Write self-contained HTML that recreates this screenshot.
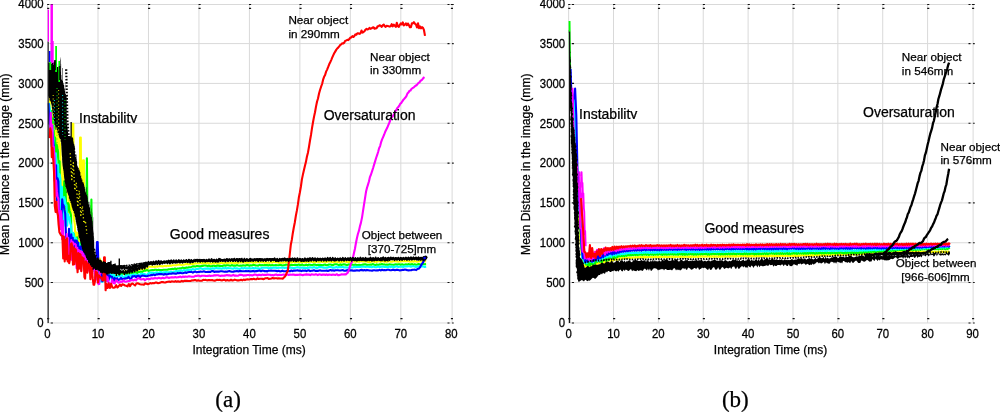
<!DOCTYPE html>
<html><head><meta charset="utf-8"><style>
html,body{margin:0;padding:0;background:#fff;width:1000px;height:412px;overflow:hidden}
svg{display:block}
text{font-family:"Liberation Sans",sans-serif;fill:#000;stroke:#000;stroke-width:0.25px}
svg{will-change:transform;filter:blur(0.3px)}
</style></head><body>
<svg width="1000" height="412" viewBox="0 0 1000 412">
<rect width="1000" height="412" fill="#fff"/>
<path d="M98 4.49V322.98M148.47 4.49V322.98M198.94 4.49V322.98M249.41 4.49V322.98M299.88 4.49V322.98M350.35 4.49V322.98M400.82 4.49V322.98M47.53 282.57H452.1M47.53 242.74H452.1M47.53 202.91H452.1M47.53 163.08H452.1M47.53 123.25H452.1M47.53 83.42H452.1M47.53 43.59H452.1" stroke="#d9d9d9" stroke-width="1" fill="none"/>
<rect x="47.53" y="4.49" width="404.57" height="318.49" stroke="#d9d9d9" stroke-width="1" fill="none"/>
<path d="M47.13 4.49h2.1M47.13 8.39h2.1M47.13 318.63h2.1M97.6 4.49h2.1M97.6 8.39h2.1M97.6 318.63h2.1M148.07 4.49h2.1M148.07 8.39h2.1M148.07 318.63h2.1M198.54 4.49h2.1M198.54 8.39h2.1M198.54 318.63h2.1M249.01 4.49h2.1M249.01 8.39h2.1M249.01 318.63h2.1M299.48 4.49h2.1M299.48 8.39h2.1M299.48 318.63h2.1M349.95 4.49h2.1M349.95 8.39h2.1M349.95 318.63h2.1M400.42 4.49h2.1M400.42 8.39h2.1M400.42 318.63h2.1M450.89 4.49h2.1M450.89 8.39h2.1M450.89 318.63h2.1M50.73 322.98h2.2M447.5 322.98h2M452.1 322.98h1.6M50.73 282.57h2.2M447.5 282.57h2M452.1 282.57h1.6M50.73 242.74h2.2M447.5 242.74h2M452.1 242.74h1.6M50.73 202.91h2.2M447.5 202.91h2M452.1 202.91h1.6M50.73 163.08h2.2M447.5 163.08h2M452.1 163.08h1.6M50.73 123.25h2.2M447.5 123.25h2M452.1 123.25h1.6M50.73 83.42h2.2M447.5 83.42h2M452.1 83.42h1.6M50.73 43.59h2.2M447.5 43.59h2M452.1 43.59h1.6M50.73 4.49h2.2M447.5 4.49h2M452.1 4.49h1.6" stroke="#111" stroke-width="1.1" fill="none"/>
<text transform="translate(43.7 326.8) scale(1 1.11)" text-anchor="end" font-size="11.4">0</text>
<text transform="translate(43.7 286.97) scale(1 1.11)" text-anchor="end" font-size="11.4">500</text>
<text transform="translate(43.7 247.14) scale(1 1.11)" text-anchor="end" font-size="11.4">1000</text>
<text transform="translate(43.7 207.31) scale(1 1.11)" text-anchor="end" font-size="11.4">1500</text>
<text transform="translate(43.7 167.48) scale(1 1.11)" text-anchor="end" font-size="11.4">2000</text>
<text transform="translate(43.7 127.65) scale(1 1.11)" text-anchor="end" font-size="11.4">2500</text>
<text transform="translate(43.7 87.82) scale(1 1.11)" text-anchor="end" font-size="11.4">3000</text>
<text transform="translate(43.7 47.99) scale(1 1.11)" text-anchor="end" font-size="11.4">3500</text>
<text transform="translate(43.7 8.16) scale(1 1.11)" text-anchor="end" font-size="11.4">4000</text>
<text transform="translate(47.53 337.9) scale(1 1.11)" text-anchor="middle" font-size="11.4">0</text>
<text transform="translate(98 337.9) scale(1 1.11)" text-anchor="middle" font-size="11.4">10</text>
<text transform="translate(148.47 337.9) scale(1 1.11)" text-anchor="middle" font-size="11.4">20</text>
<text transform="translate(198.94 337.9) scale(1 1.11)" text-anchor="middle" font-size="11.4">30</text>
<text transform="translate(249.41 337.9) scale(1 1.11)" text-anchor="middle" font-size="11.4">40</text>
<text transform="translate(299.88 337.9) scale(1 1.11)" text-anchor="middle" font-size="11.4">50</text>
<text transform="translate(350.35 337.9) scale(1 1.11)" text-anchor="middle" font-size="11.4">60</text>
<text transform="translate(400.82 337.9) scale(1 1.11)" text-anchor="middle" font-size="11.4">70</text>
<text transform="translate(451.29 337.9) scale(1 1.11)" text-anchor="middle" font-size="11.4">80</text>
<text x="249.1" y="353.6" text-anchor="middle" font-size="12">Integration Time (ms)</text>
<text transform="translate(8.8 164.2) rotate(-90)" text-anchor="middle" font-size="12.1">Mean Distance in the image (mm)</text>
<path d="M613.5 4.49V322.98M658.37 4.49V322.98M703.24 4.49V322.98M748.11 4.49V322.98M792.98 4.49V322.98M837.85 4.49V322.98M882.72 4.49V322.98M927.59 4.49V322.98M568.63 282.57H973.1M568.63 242.74H973.1M568.63 202.91H973.1M568.63 163.08H973.1M568.63 123.25H973.1M568.63 83.42H973.1M568.63 43.59H973.1" stroke="#d9d9d9" stroke-width="1" fill="none"/>
<rect x="568.63" y="4.49" width="404.47" height="318.49" stroke="#d9d9d9" stroke-width="1" fill="none"/>
<path d="M568.23 4.49h2.1M568.23 8.39h2.1M568.23 318.63h2.1M613.1 4.49h2.1M613.1 8.39h2.1M613.1 318.63h2.1M657.97 4.49h2.1M657.97 8.39h2.1M657.97 318.63h2.1M702.84 4.49h2.1M702.84 8.39h2.1M702.84 318.63h2.1M747.71 4.49h2.1M747.71 8.39h2.1M747.71 318.63h2.1M792.58 4.49h2.1M792.58 8.39h2.1M792.58 318.63h2.1M837.45 4.49h2.1M837.45 8.39h2.1M837.45 318.63h2.1M882.32 4.49h2.1M882.32 8.39h2.1M882.32 318.63h2.1M927.19 4.49h2.1M927.19 8.39h2.1M927.19 318.63h2.1M972.06 4.49h2.1M972.06 8.39h2.1M972.06 318.63h2.1M571.83 322.98h2.2M968.5 322.98h2M973.1 322.98h1.6M571.83 282.57h2.2M968.5 282.57h2M973.1 282.57h1.6M571.83 242.74h2.2M968.5 242.74h2M973.1 242.74h1.6M571.83 202.91h2.2M968.5 202.91h2M973.1 202.91h1.6M571.83 163.08h2.2M968.5 163.08h2M973.1 163.08h1.6M571.83 123.25h2.2M968.5 123.25h2M973.1 123.25h1.6M571.83 83.42h2.2M968.5 83.42h2M973.1 83.42h1.6M571.83 43.59h2.2M968.5 43.59h2M973.1 43.59h1.6M571.83 4.49h2.2M968.5 4.49h2M973.1 4.49h1.6" stroke="#111" stroke-width="1.1" fill="none"/>
<text transform="translate(565.2 326.8) scale(1 1.11)" text-anchor="end" font-size="11.4">0</text>
<text transform="translate(565.2 286.97) scale(1 1.11)" text-anchor="end" font-size="11.4">500</text>
<text transform="translate(565.2 247.14) scale(1 1.11)" text-anchor="end" font-size="11.4">1000</text>
<text transform="translate(565.2 207.31) scale(1 1.11)" text-anchor="end" font-size="11.4">1500</text>
<text transform="translate(565.2 167.48) scale(1 1.11)" text-anchor="end" font-size="11.4">2000</text>
<text transform="translate(565.2 127.65) scale(1 1.11)" text-anchor="end" font-size="11.4">2500</text>
<text transform="translate(565.2 87.82) scale(1 1.11)" text-anchor="end" font-size="11.4">3000</text>
<text transform="translate(565.2 47.99) scale(1 1.11)" text-anchor="end" font-size="11.4">3500</text>
<text transform="translate(565.2 8.16) scale(1 1.11)" text-anchor="end" font-size="11.4">4000</text>
<text transform="translate(568.63 337.9) scale(1 1.11)" text-anchor="middle" font-size="11.4">0</text>
<text transform="translate(613.5 337.9) scale(1 1.11)" text-anchor="middle" font-size="11.4">10</text>
<text transform="translate(658.37 337.9) scale(1 1.11)" text-anchor="middle" font-size="11.4">20</text>
<text transform="translate(703.24 337.9) scale(1 1.11)" text-anchor="middle" font-size="11.4">30</text>
<text transform="translate(748.11 337.9) scale(1 1.11)" text-anchor="middle" font-size="11.4">40</text>
<text transform="translate(792.98 337.9) scale(1 1.11)" text-anchor="middle" font-size="11.4">50</text>
<text transform="translate(837.85 337.9) scale(1 1.11)" text-anchor="middle" font-size="11.4">60</text>
<text transform="translate(882.72 337.9) scale(1 1.11)" text-anchor="middle" font-size="11.4">70</text>
<text transform="translate(927.59 337.9) scale(1 1.11)" text-anchor="middle" font-size="11.4">80</text>
<text transform="translate(972.46 337.9) scale(1 1.11)" text-anchor="middle" font-size="11.4">90</text>
<text x="770.5" y="353.6" text-anchor="middle" font-size="12">Integration Time (ms)</text>
<text transform="translate(530.4 164.2) rotate(-90)" text-anchor="middle" font-size="12.1">Mean Distance in the image (mm)</text>
<clipPath id="ca"><rect x="47.5" y="4.49" width="404.25" height="318.49"/></clipPath>
<g clip-path="url(#ca)"><path d="M49.0 114.3L49.8 96.4L50.6 112.4L51.3 122.9L52.1 125.5L52.8 127.7L53.6 108.3L54.3 140.3L55.1 137.5L55.9 115.8L56.6 157.8L57.4 120.9L58.1 149.9L58.9 128.5L59.6 141.8L60.4 147.2L61.2 196.2L61.9 183.1L62.7 189.9L63.4 163.5L64.2 202.4L64.9 208.7L65.7 180.3L66.5 181.3L67.2 185.4L68.0 187.9L68.7 212.3L69.5 198.1L70.2 201.1L71.0 223.6L71.8 207.6L72.5 123.9L73.3 123.9L74.0 219.3L74.8 224.0L75.5 241.9L76.3 232.6L77.1 232.9L77.8 232.9L78.6 259.6L79.3 256.4L80.1 137.6L80.8 137.6L81.6 256.0L82.4 239.9L83.1 160.2L83.9 160.2L84.6 243.1L85.4 255.4L86.1 244.2L86.9 260.8L87.7 246.4L88.4 267.0L89.2 248.2L89.9 248.5L90.7 249.8L91.4 249.4L92.2 268.4L93.0 251.0L93.7 252.7L94.5 254.0L95.2 272.3L96.0 255.8L96.7 256.2L97.5 266.6L98.3 268.1L99.0 270.9L99.8 258.6L100.5 270.2L101.3 261.0L102.0 275.5L102.8 262.9L103.6 264.5L104.3 271.9L105.1 265.2L105.8 266.0L106.6 273.0L107.3 275.3L108.1 276.4L109.4 274.0L110.6 273.9L111.9 276.8L113.1 270.7L114.4 275.6L115.7 274.3L116.9 272.5L118.2 272.5L119.4 273.3L120.7 273.6L122.0 272.2L123.2 273.8L124.5 271.7L125.8 271.0L127.0 272.8L128.3 270.8L129.5 272.9L130.8 270.6L132.1 271.9L133.3 269.8L134.6 271.0L135.9 269.4L137.1 271.6L138.4 271.2L139.6 269.0L140.9 269.3L142.2 269.1L143.4 270.1L144.7 269.4L145.9 268.4L147.2 268.9L148.5 266.8L149.7 266.7L151.0 266.5L152.3 266.6L153.5 266.8L154.8 267.0L156.0 266.3L157.3 266.8L158.6 266.3L159.8 266.2L161.1 266.1L162.3 266.4L163.6 266.3L164.9 265.8L166.1 266.2L167.4 265.6L168.7 265.9L169.9 265.6L171.2 265.7L172.4 265.2L173.7 265.3L175.0 265.3L176.2 265.2L177.5 264.8L178.8 264.4L180.0 264.8L181.3 264.9L182.5 264.7L183.8 264.7L185.1 264.3L186.3 264.0L187.6 264.1L188.8 264.4L190.1 264.2L191.4 264.0L192.6 263.9L193.9 263.8L195.2 263.2L196.4 263.5L197.7 263.3L198.9 263.2L200.2 263.2L201.5 263.0L202.7 263.4L204.0 263.1L205.2 262.8L206.5 263.5L207.8 263.1L209.0 263.3L210.3 263.6L211.6 263.6L212.8 262.9L214.1 263.5L215.3 262.9L216.6 263.4L217.9 263.2L219.1 263.5L220.4 262.9L221.7 262.7L222.9 263.2L224.2 262.9L225.4 262.5L226.7 263.1L228.0 262.9L229.2 262.6L230.5 262.5L231.7 263.1L233.0 262.6L234.3 263.1L235.5 263.1L236.8 262.3L238.1 263.1L239.3 262.3L240.6 262.4L241.8 262.5L243.1 262.4L244.4 262.5L245.6 262.8L246.9 262.6L248.1 262.8L249.4 262.2L250.7 262.2L251.9 262.2L253.2 262.7L254.5 262.3L255.7 262.6L257.0 262.1L258.2 262.1L259.5 261.9L260.8 262.2L262.0 262.2L263.3 262.1L264.6 262.7L265.8 262.2L267.1 262.8L268.3 262.4L269.6 262.7L270.9 261.9L272.1 262.7L273.4 261.9L274.6 261.8L275.9 262.3L277.2 261.9L278.4 262.7L279.7 262.6L281.0 262.7L282.2 262.6L283.5 262.7L284.7 261.9L286.0 262.6L287.3 262.1L288.5 262.4L289.8 262.5L291.0 262.2L292.3 262.4L293.6 261.7L294.8 262.2L296.1 262.0L297.4 262.0L298.6 262.0L299.9 262.1L301.1 262.3L302.4 262.4L303.7 261.7L304.9 262.3L306.2 262.1L307.5 261.7L308.7 261.9L310.0 261.6L311.2 261.7L312.5 262.0L313.8 262.3L315.0 261.9L316.3 262.0L317.5 261.6L318.8 261.9L320.1 261.7L321.3 261.6L322.6 261.9L323.9 261.6L325.1 261.5L326.4 262.2L327.6 261.5L328.9 261.5L330.2 261.5L331.4 262.0L332.7 262.1L333.9 262.2L335.2 261.9L336.5 261.5L337.7 261.9L339.0 262.3L340.3 262.0L341.5 262.2L342.8 261.6L344.0 261.5L345.3 261.3L346.6 262.1L347.8 261.8L349.1 262.1L350.4 261.3L351.6 261.4L352.9 261.7L354.1 261.2L355.4 261.7L356.7 261.4L357.9 261.7L359.2 261.8L360.4 261.2L361.7 261.3L363.0 261.5L364.2 261.3L365.5 261.5L366.8 261.3L368.0 262.0L369.3 261.9L370.5 261.9L371.8 261.5L373.1 261.3L374.3 261.9L375.6 261.5L376.8 261.9L378.1 261.3L379.4 261.2L380.6 261.9L381.9 261.0L383.2 261.3L384.4 261.8L385.7 261.6L386.9 261.8L388.2 261.2L389.5 261.0L390.7 261.8L392.0 261.7L393.2 261.3L394.5 261.1L395.8 261.2L397.0 261.5L398.3 261.8L399.6 261.3L400.8 261.4L402.1 261.1L403.3 261.3L404.6 261.1L405.9 260.9L407.1 261.2L408.4 261.0L409.7 261.6L410.9 261.8L412.2 261.0L413.4 261.8L414.7 260.8L416.0 261.4L417.2 261.7L418.5 261.5L419.7 261.1L421.0 261.4L422.3 261.2L423.5 261.7L424.8 260.9L426.1 261.4" stroke="#ffff00" stroke-width="2.1" fill="none" stroke-linejoin="round"/><path d="M49.0 112.4L49.8 121.1L50.6 127.1L51.3 111.0L52.1 143.3L52.8 117.7L53.6 124.8L54.3 156.0L55.1 137.6L55.9 163.3L56.6 144.5L57.4 147.7L58.1 152.1L58.9 175.9L59.6 161.3L60.4 204.1L61.2 193.0L61.9 201.4L62.7 198.2L63.4 210.8L64.2 181.2L64.9 187.9L65.7 192.7L66.5 216.6L67.2 214.8L68.0 203.0L68.7 204.6L69.5 210.5L70.2 212.6L71.0 215.3L71.8 245.2L72.5 238.2L73.3 246.1L74.0 234.0L74.8 248.5L75.5 249.5L76.3 259.3L77.1 237.3L77.8 255.8L78.6 251.6L79.3 260.5L80.1 252.3L80.8 242.6L81.6 260.5L82.4 258.1L83.1 243.8L83.9 245.4L84.6 247.0L85.4 264.9L86.1 248.4L86.9 158.3L87.7 249.4L88.4 266.6L89.2 250.9L89.9 262.4L90.7 253.8L91.4 199.5L92.2 271.3L93.0 270.9L93.7 256.6L94.5 267.4L95.2 257.6L96.0 277.0L96.7 257.3L97.5 273.3L98.3 260.2L99.0 261.3L99.8 273.5L100.5 278.7L101.3 263.9L102.0 265.6L102.8 278.0L103.6 275.5L104.3 278.5L105.1 278.2L105.8 276.6L106.6 269.8L107.3 278.6L108.1 276.2L109.4 277.7L110.6 271.9L111.9 276.0L113.1 276.7L114.4 277.0L115.7 276.3L116.9 276.7L118.2 275.3L119.4 273.9L120.7 273.7L122.0 274.1L123.2 273.2L124.5 273.1L125.8 274.2L127.0 274.0L128.3 274.9L129.5 272.9L130.8 272.4L132.1 273.5L133.3 272.7L134.6 272.4L135.9 272.2L137.1 273.5L138.4 271.7L139.6 272.0L140.9 271.6L142.2 272.0L143.4 271.2L144.7 270.5L145.9 270.6L147.2 270.1L148.5 270.9L149.7 270.6L151.0 270.2L152.3 270.0L153.5 270.3L154.8 269.8L156.0 269.8L157.3 270.3L158.6 269.8L159.8 270.0L161.1 270.1L162.3 270.0L163.6 269.7L164.9 269.8L166.1 269.7L167.4 269.8L168.7 269.3L169.9 269.3L171.2 269.0L172.4 268.9L173.7 269.1L175.0 268.3L176.2 269.1L177.5 268.5L178.8 268.5L180.0 268.3L181.3 268.4L182.5 267.6L183.8 267.9L185.1 268.1L186.3 267.4L187.6 267.7L188.8 267.2L190.1 267.2L191.4 266.9L192.6 266.4L193.9 266.3L195.2 266.6L196.4 266.1L197.7 266.1L198.9 266.2L200.2 266.4L201.5 265.9L202.7 265.9L204.0 265.5L205.2 265.5L206.5 265.8L207.8 266.1L209.0 265.5L210.3 266.4L211.6 266.3L212.8 265.8L214.1 265.7L215.3 266.2L216.6 265.7L217.9 265.4L219.1 265.9L220.4 265.8L221.7 266.0L222.9 265.9L224.2 265.3L225.4 265.8L226.7 265.2L228.0 265.3L229.2 265.5L230.5 265.8L231.7 265.1L233.0 265.6L234.3 265.6L235.5 265.7L236.8 265.1L238.1 265.5L239.3 265.7L240.6 265.5L241.8 265.8L243.1 265.3L244.4 265.5L245.6 265.6L246.9 265.1L248.1 265.1L249.4 265.8L250.7 265.3L251.9 265.5L253.2 264.9L254.5 265.0L255.7 265.5L257.0 265.5L258.2 265.6L259.5 264.8L260.8 265.4L262.0 265.1L263.3 265.2L264.6 265.1L265.8 265.1L267.1 265.0L268.3 265.5L269.6 264.9L270.9 265.4L272.1 265.1L273.4 265.3L274.6 265.3L275.9 265.1L277.2 265.2L278.4 265.3L279.7 264.9L281.0 265.0L282.2 265.5L283.5 265.3L284.7 265.1L286.0 264.7L287.3 264.7L288.5 265.0L289.8 265.5L291.0 264.8L292.3 265.1L293.6 265.0L294.8 264.8L296.1 264.9L297.4 265.0L298.6 264.6L299.9 265.1L301.1 265.1L302.4 264.6L303.7 265.3L304.9 265.2L306.2 264.6L307.5 265.4L308.7 264.6L310.0 264.7L311.2 265.0L312.5 265.1L313.8 264.6L315.0 264.5L316.3 265.2L317.5 264.9L318.8 264.8L320.1 264.9L321.3 265.0L322.6 265.2L323.9 264.8L325.1 264.5L326.4 265.3L327.6 265.1L328.9 264.5L330.2 264.5L331.4 264.7L332.7 265.3L333.9 264.6L335.2 264.3L336.5 264.3L337.7 264.6L339.0 265.2L340.3 264.4L341.5 265.0L342.8 264.6L344.0 264.3L345.3 264.5L346.6 265.1L347.8 264.9L349.1 264.3L350.4 265.0L351.6 264.6L352.9 264.8L354.1 265.0L355.4 264.5L356.7 265.1L357.9 265.0L359.2 264.8L360.4 265.0L361.7 265.1L363.0 264.6L364.2 264.4L365.5 264.2L366.8 264.9L368.0 264.7L369.3 264.8L370.5 264.5L371.8 264.6L373.1 264.1L374.3 264.7L375.6 265.0L376.8 264.4L378.1 264.9L379.4 264.4L380.6 264.5L381.9 264.1L383.2 264.5L384.4 264.4L385.7 264.7L386.9 264.5L388.2 264.7L389.5 264.3L390.7 264.5L392.0 264.8L393.2 264.7L394.5 264.6L395.8 264.2L397.0 264.8L398.3 264.3L399.6 264.3L400.8 264.9L402.1 264.3L403.3 264.8L404.6 264.8L405.9 264.3L407.1 264.7L408.4 264.1L409.7 264.4L410.9 264.6L412.2 264.1L413.4 264.9L414.7 264.2L416.0 264.8L417.2 264.7L418.5 264.0L419.7 264.2L421.0 264.7L422.3 264.7L423.5 263.9L424.8 264.2L426.1 264.1" stroke="#00ff00" stroke-width="2.1" fill="none" stroke-linejoin="round"/><path d="M49.0 102.8L49.8 108.3L50.6 115.6L51.3 146.0L52.1 125.2L52.8 132.2L53.6 140.0L54.3 163.7L55.1 180.5L55.9 153.4L56.6 181.0L57.4 193.1L58.1 164.5L58.9 199.9L59.6 174.2L60.4 178.4L61.2 218.1L61.9 186.8L62.7 223.8L63.4 225.9L64.2 197.0L64.9 199.8L65.7 205.0L66.5 205.3L67.2 225.6L68.0 214.1L68.7 216.5L69.5 217.6L70.2 223.1L71.0 225.5L71.8 246.6L72.5 248.9L73.3 232.7L74.0 236.6L74.8 257.4L75.5 237.8L76.3 239.0L77.1 250.9L77.8 261.9L78.6 260.7L79.3 243.2L80.1 264.9L80.8 259.2L81.6 262.3L82.4 245.8L83.1 246.1L83.9 261.7L84.6 248.2L85.4 249.9L86.1 248.5L86.9 250.8L87.7 249.7L88.4 252.8L89.2 254.0L89.9 253.1L90.7 255.8L91.4 267.5L92.2 257.2L93.0 256.3L93.7 256.5L94.5 259.4L95.2 260.8L96.0 271.9L96.7 260.5L97.5 263.5L98.3 264.0L99.0 274.7L99.8 266.3L100.5 281.4L101.3 266.7L102.0 281.9L102.8 281.5L103.6 270.4L104.3 277.9L105.1 281.8L105.8 278.5L106.6 280.9L107.3 271.6L108.1 279.9L109.4 278.0L110.6 273.0L111.9 280.2L113.1 274.4L114.4 274.8L115.7 279.2L116.9 276.2L118.2 276.3L119.4 276.5L120.7 275.9L122.0 275.3L123.2 277.2L124.5 277.7L125.8 275.2L127.0 277.5L128.3 275.1L129.5 277.1L130.8 275.0L132.1 275.0L133.3 274.6L134.6 275.3L135.9 274.3L137.1 276.0L138.4 274.6L139.6 275.4L140.9 273.7L142.2 273.8L143.4 274.3L144.7 273.9L145.9 275.0L147.2 274.7L148.5 273.1L149.7 273.0L151.0 272.6L152.3 272.7L153.5 273.1L154.8 272.9L156.0 272.4L157.3 272.6L158.6 273.0L159.8 272.2L161.1 272.1L162.3 272.8L163.6 272.3L164.9 272.4L166.1 271.9L167.4 272.3L168.7 272.3L169.9 272.0L171.2 271.5L172.4 272.2L173.7 272.0L175.0 271.4L176.2 271.0L177.5 271.2L178.8 271.1L180.0 270.6L181.3 270.5L182.5 271.0L183.8 270.1L185.1 270.6L186.3 270.4L187.6 269.7L188.8 270.0L190.1 269.5L191.4 269.9L192.6 269.1L193.9 269.6L195.2 269.5L196.4 269.0L197.7 269.0L198.9 268.7L200.2 268.3L201.5 268.5L202.7 269.1L204.0 268.8L205.2 268.6L206.5 268.6L207.8 268.4L209.0 268.6L210.3 269.0L211.6 268.8L212.8 268.2L214.1 268.7L215.3 268.3L216.6 268.1L217.9 268.4L219.1 268.3L220.4 268.4L221.7 268.7L222.9 268.1L224.2 268.5L225.4 268.1L226.7 268.6L228.0 268.1L229.2 268.2L230.5 268.3L231.7 268.5L233.0 268.7L234.3 268.1L235.5 268.5L236.8 268.2L238.1 268.7L239.3 268.7L240.6 268.7L241.8 268.0L243.1 268.6L244.4 267.9L245.6 268.4L246.9 268.2L248.1 268.4L249.4 268.1L250.7 268.6L251.9 268.3L253.2 267.8L254.5 268.5L255.7 268.1L257.0 268.4L258.2 268.4L259.5 268.6L260.8 268.6L262.0 267.7L263.3 267.8L264.6 267.8L265.8 267.8L267.1 267.7L268.3 268.4L269.6 268.0L270.9 268.0L272.1 268.0L273.4 267.6L274.6 267.8L275.9 267.5L277.2 268.3L278.4 267.8L279.7 267.8L281.0 267.7L282.2 267.8L283.5 267.6L284.7 268.1L286.0 267.5L287.3 268.0L288.5 267.8L289.8 267.5L291.0 267.6L292.3 268.0L293.6 268.0L294.8 267.9L296.1 267.6L297.4 267.3L298.6 267.4L299.9 267.8L301.1 267.8L302.4 267.4L303.7 267.9L304.9 267.7L306.2 268.1L307.5 267.9L308.7 267.6L310.0 267.4L311.2 267.5L312.5 267.7L313.8 267.1L315.0 267.4L316.3 267.9L317.5 267.9L318.8 267.1L320.1 267.0L321.3 267.1L322.6 267.4L323.9 267.6L325.1 267.8L326.4 267.7L327.6 267.7L328.9 267.0L330.2 267.0L331.4 267.1L332.7 267.7L333.9 267.6L335.2 267.5L336.5 266.9L337.7 267.6L339.0 267.0L340.3 267.1L341.5 267.2L342.8 266.8L344.0 267.5L345.3 267.2L346.6 267.5L347.8 267.6L349.1 267.6L350.4 267.3L351.6 267.5L352.9 267.5L354.1 266.6L355.4 267.3L356.7 266.7L357.9 266.9L359.2 266.8L360.4 266.9L361.7 266.6L363.0 266.7L364.2 266.8L365.5 266.9L366.8 266.8L368.0 266.7L369.3 266.9L370.5 266.9L371.8 267.2L373.1 266.6L374.3 266.9L375.6 267.3L376.8 267.2L378.1 266.5L379.4 267.1L380.6 266.9L381.9 266.6L383.2 266.5L384.4 267.0L385.7 266.9L386.9 266.9L388.2 267.2L389.5 266.4L390.7 267.2L392.0 266.3L393.2 267.1L394.5 267.1L395.8 266.4L397.0 266.4L398.3 267.0L399.6 266.7L400.8 266.8L402.1 266.5L403.3 267.0L404.6 266.4L405.9 266.2L407.1 266.5L408.4 266.3L409.7 266.3L410.9 266.8L412.2 266.3L413.4 266.3L414.7 266.6L416.0 267.0L417.2 266.5L418.5 266.2L419.7 266.8L421.0 266.5L422.3 266.2L423.5 266.5L424.8 267.0L426.1 266.5" stroke="#00ffff" stroke-width="2.1" fill="none" stroke-linejoin="round"/><path d="M48.5 103.2L49.3 123.8L50.1 114.5L50.8 134.0L51.6 128.6L52.3 132.1L53.1 139.5L53.8 147.2L54.6 179.6L55.4 184.1L56.1 165.3L56.9 200.2L57.6 178.4L58.4 181.5L59.1 217.6L59.9 220.9L60.7 218.2L61.4 221.7L62.2 199.3L62.9 205.8L63.7 205.3L64.4 209.9L65.2 213.6L66.0 236.0L66.7 242.0L67.5 245.9L68.2 250.8L69.0 228.7L69.7 255.8L70.5 257.6L71.3 234.4L72.0 258.3L72.8 237.8L73.5 260.1L74.3 251.7L75.0 240.3L75.8 255.7L76.6 240.5L77.3 242.2L78.1 242.7L78.8 265.2L79.6 261.7L80.3 246.6L81.1 246.5L81.8 248.6L82.6 248.2L83.4 260.2L84.1 263.9L84.9 249.9L85.6 252.0L86.4 269.4L87.1 269.3L87.9 253.2L88.7 269.4L89.4 256.9L90.2 255.7L90.9 257.7L91.7 272.0L92.4 269.0L93.2 260.1L94.0 260.9L94.7 261.7L95.5 278.3L96.2 265.0L97.0 242.1L97.7 242.1L98.5 266.2L99.3 267.6L100.0 278.6L100.8 269.4L101.5 269.3L102.3 281.1L103.0 271.9L103.8 271.9L104.6 273.8L105.3 273.8L106.1 274.8L106.8 274.4L107.6 274.7L108.3 281.1L109.6 275.4L110.9 276.6L112.1 276.7L113.4 281.9L114.7 277.9L115.9 281.2L117.2 278.3L118.4 280.0L119.7 279.4L121.0 277.9L122.2 279.2L123.5 278.9L124.7 278.6L126.0 278.4L127.3 278.3L128.5 276.8L129.8 278.8L131.1 279.0L132.3 276.4L133.6 276.4L134.8 276.0L136.1 277.3L137.4 275.8L138.6 275.7L139.9 277.5L141.2 275.9L142.4 275.5L143.7 275.7L144.9 275.9L146.2 276.3L147.5 275.9L148.7 275.5L150.0 275.5L151.2 274.9L152.5 275.1L153.8 274.6L155.0 275.2L156.3 274.3L157.6 274.4L158.8 274.1L160.1 274.1L161.3 274.0L162.6 274.2L163.9 274.7L165.1 273.9L166.4 274.4L167.6 274.2L168.9 273.8L170.2 273.8L171.4 273.8L172.7 273.2L174.0 273.5L175.2 273.6L176.5 273.6L177.7 272.9L179.0 273.2L180.3 272.8L181.5 273.1L182.8 273.2L184.1 272.8L185.3 272.4L186.6 272.9L187.8 272.2L189.1 272.0L190.4 272.0L191.6 271.9L192.9 272.6L194.1 271.9L195.4 271.6L196.7 272.3L197.9 272.0L199.2 271.9L200.5 271.6L201.7 271.7L203.0 271.6L204.2 271.3L205.5 272.0L206.8 272.0L208.0 271.9L209.3 271.9L210.5 271.9L211.8 271.0L213.1 271.1L214.3 271.9L215.6 271.5L216.9 271.6L218.1 271.6L219.4 271.6L220.6 271.3L221.9 271.3L223.2 271.5L224.4 271.7L225.7 271.5L227.0 271.7L228.2 271.3L229.5 271.1L230.7 271.4L232.0 271.7L233.3 271.6L234.5 271.4L235.8 271.2L237.0 271.0L238.3 271.4L239.6 270.9L240.8 271.1L242.1 271.3L243.4 271.3L244.6 271.2L245.9 271.0L247.1 271.2L248.4 271.0L249.7 271.2L250.9 271.4L252.2 271.1L253.4 270.9L254.7 271.5L256.0 271.1L257.2 271.1L258.5 270.7L259.8 270.6L261.0 271.2L262.3 270.6L263.5 270.7L264.8 271.2L266.1 271.0L267.3 271.4L268.6 270.7L269.9 270.8L271.1 270.6L272.4 270.7L273.6 270.8L274.9 270.7L276.2 270.9L277.4 271.3L278.7 270.8L279.9 271.4L281.2 271.2L282.5 270.6L283.7 271.3L285.0 271.3L286.3 271.2L287.5 270.5L288.8 271.1L290.0 271.3L291.3 270.5L292.6 271.2L293.8 270.5L295.1 270.6L296.3 270.5L297.6 270.3L298.9 270.7L300.1 270.5L301.4 271.2L302.7 270.5L303.9 270.7L305.2 270.5L306.4 271.1L307.7 270.5L309.0 270.3L310.2 271.1L311.5 270.8L312.7 270.6L314.0 270.3L315.3 270.9L316.5 270.9L317.8 270.9L319.1 270.5L320.3 270.4L321.6 270.7L322.8 270.7L324.1 270.7L325.4 270.7L326.6 270.6L327.9 271.0L329.2 270.5L330.4 270.1L331.7 270.6L332.9 270.3L334.2 270.8L335.5 270.3L336.7 270.2L338.0 270.3L339.2 270.5L340.5 270.5L341.8 270.3L343.0 270.1L344.3 270.8L345.6 270.8L346.8 270.2L348.1 270.0L349.3 270.4L350.6 270.4L351.9 270.2L353.1 270.7L354.4 270.6L355.6 270.6L356.9 270.3L358.2 270.5L359.4 270.6L360.7 270.1L362.0 269.9L363.2 270.5L364.5 270.1L365.7 270.4L367.0 269.9L368.3 270.2L369.5 270.5L370.8 270.5L372.1 270.7L373.3 270.2L374.6 270.3L375.8 270.5L377.1 270.3L378.4 270.4L379.6 269.9L380.9 270.5L382.1 269.7L383.4 270.2L384.7 270.1L385.9 270.2L387.2 269.8L388.5 269.8L389.7 270.1L391.0 270.2L392.2 269.9L393.5 269.8L394.8 270.2L396.0 269.9L397.3 269.7L398.5 270.1L399.8 270.4L401.1 270.3L402.3 269.9L403.6 269.9L404.9 269.6L406.1 269.7L407.4 270.3L408.6 270.4L409.9 270.3L411.2 270.3L412.4 269.8L413.7 269.7L415.0 269.6L416.2 270.1L417.5 268.9L418.7 268.8L420.0 267.4L421.3 264.8L422.5 263.1L423.8 260.9L425.0 258.6" stroke="#0000ff" stroke-width="2.1" fill="none" stroke-linejoin="round"/><path d="M50.1 133.3L50.8 112.9L51.6 143.9L52.3 124.8L53.1 159.4L53.8 146.9L54.6 159.2L55.4 196.0L56.1 180.6L56.9 191.7L57.6 197.0L58.4 198.8L59.1 223.1L59.9 229.3L60.7 210.8L61.4 214.4L62.2 239.1L62.9 220.9L63.7 250.8L64.4 251.8L65.2 255.4L66.0 251.1L66.7 234.0L67.5 257.7L68.2 237.7L69.0 256.1L69.7 257.1L70.5 256.2L71.3 240.0L72.0 259.9L72.8 242.1L73.5 244.5L74.3 243.8L75.0 243.9L75.8 244.7L76.6 268.1L77.3 247.8L78.1 266.2L78.8 250.1L79.6 266.2L80.3 251.0L81.1 270.7L81.8 251.7L82.6 252.9L83.4 254.0L84.1 267.2L84.9 257.0L85.6 255.7L86.4 269.0L87.1 271.7L87.9 260.2L88.7 270.5L89.4 270.3L90.2 270.4L90.9 262.9L91.7 261.6L92.4 273.6L93.2 264.0L94.0 263.2L94.7 266.3L95.5 279.7L96.2 267.4L97.0 268.3L97.7 282.7L98.5 284.1L99.3 284.0L100.0 270.3L100.8 270.8L101.5 272.6L102.3 272.0L103.0 273.4L103.8 274.0L104.6 273.9L105.3 275.0L106.1 280.7L106.8 276.7L107.6 277.4L108.3 281.9L109.6 283.9L110.9 285.4L112.1 279.6L113.4 282.8L114.7 283.5L115.9 280.3L117.2 280.7L118.4 282.6L119.7 282.4L121.0 281.3L122.2 282.0L123.5 280.2L124.7 281.4L126.0 281.7L127.3 281.3L128.5 281.1L129.8 281.0L131.1 280.1L132.3 280.1L133.6 280.5L134.8 279.5L136.1 280.5L137.4 278.5L138.6 278.3L139.9 278.8L141.2 279.5L142.4 279.2L143.7 278.9L144.9 280.3L146.2 279.2L147.5 278.8L148.7 279.1L150.0 279.1L151.2 278.3L152.5 278.6L153.8 278.4L155.0 278.0L156.3 278.2L157.6 278.4L158.8 277.7L160.1 278.2L161.3 278.4L162.6 277.7L163.9 278.2L165.1 277.9L166.4 277.3L167.6 277.4L168.9 278.0L170.2 277.5L171.4 277.4L172.7 277.3L174.0 277.5L175.2 277.1L176.5 277.5L177.7 277.2L179.0 277.1L180.3 276.5L181.5 277.3L182.8 276.6L184.1 277.0L185.3 276.6L186.6 276.7L187.8 276.6L189.1 276.3L190.4 276.5L191.6 276.7L192.9 276.7L194.1 276.7L195.4 275.9L196.7 276.0L197.9 275.6L199.2 275.8L200.5 276.4L201.7 275.8L203.0 275.7L204.2 275.7L205.5 275.9L206.8 276.0L208.0 275.9L209.3 275.5L210.5 276.0L211.8 275.8L213.1 275.8L214.3 275.3L215.6 275.4L216.9 275.3L218.1 275.3L219.4 275.8L220.6 275.9L221.9 275.6L223.2 275.8L224.4 275.6L225.7 275.4L227.0 275.1L228.2 275.4L229.5 275.2L230.7 275.8L232.0 275.6L233.3 274.9L234.5 275.7L235.8 275.4L237.0 275.7L238.3 275.7L239.6 274.9L240.8 274.8L242.1 275.1L243.4 275.6L244.6 275.4L245.9 275.4L247.1 275.0L248.4 275.0L249.7 275.2L250.9 275.1L252.2 275.4L253.4 275.0L254.7 274.6L256.0 274.7L257.2 275.4L258.5 274.9L259.8 274.8L261.0 275.2L262.3 274.6L263.5 275.0L264.8 274.7L266.1 275.0L267.3 274.5L268.6 274.7L269.9 274.8L271.1 275.3L272.4 275.0L273.6 275.4L274.9 274.8L276.2 274.5L277.4 275.2L278.7 274.9L279.9 274.9L281.2 275.0L282.5 274.7L283.7 274.5L285.0 274.7L286.3 274.9L287.5 274.4L288.8 275.0L290.0 274.6L291.3 274.7L292.6 274.6L293.8 274.5L295.1 275.1L296.3 274.7L297.6 274.9L298.9 274.7L300.1 274.4L301.4 274.7L302.7 275.3L303.9 274.8L305.2 274.6L306.4 274.4L307.7 274.6L309.0 274.5L310.2 275.2L311.5 274.3L312.7 274.5L314.0 274.7L315.3 274.4L316.5 274.4L317.8 275.1L319.1 274.4L320.3 274.5L321.6 275.0L322.8 274.5L324.1 274.6L325.4 275.0L326.6 274.4L327.9 275.1L329.2 274.6L330.4 274.8L331.7 274.9L332.9 274.6L334.2 274.7L335.5 275.0L336.7 274.2L338.0 275.1L339.2 275.1L340.5 274.7L341.8 274.3L343.0 274.5L344.3 274.4L345.8 274.4L346.8 273.5L347.8 272.6L348.8 269.9L349.8 267.2L350.9 263.9L351.9 261.9L352.9 258.1L353.9 253.2L354.9 249.0L355.9 243.3L356.9 238.2L357.9 234.0L358.9 230.9L359.9 226.4L360.9 222.9L362.0 217.6L363.0 211.2L364.0 204.7L365.0 198.3L366.0 191.8L367.0 187.8L368.0 184.6L369.0 181.2L370.0 176.8L371.0 174.5L372.1 171.1L373.1 168.0L374.1 164.6L375.1 161.4L376.1 158.0L377.1 155.2L378.1 152.0L379.1 148.2L380.1 146.1L381.1 142.2L382.1 139.3L383.2 136.8L384.2 134.5L385.2 131.8L386.2 129.7L387.2 127.8L388.2 125.3L389.2 123.0L390.2 120.5L391.2 117.8L392.2 116.8L393.2 115.6L394.3 113.4L395.3 111.2L396.3 110.0L397.3 108.0L398.3 107.1L399.3 105.7L400.3 103.6L401.3 103.0L402.3 101.3L403.3 99.8L404.4 98.7L405.4 97.5L406.4 96.2L407.4 93.6L408.4 92.6L409.4 90.9L410.4 90.6L411.4 89.0L412.4 88.2L413.4 87.6L414.4 86.8L415.5 85.8L416.5 85.3L417.5 84.1L418.5 82.8L419.5 82.5L420.5 80.7L421.5 80.2L422.5 79.2L423.5 77.9L424.5 77.2" stroke="#ff00ff" stroke-width="2.1" fill="none" stroke-linejoin="round"/><path d="M49.5 138.1L50.3 128.4L51.1 132.4L51.8 157.2L52.6 148.1L53.3 159.7L54.1 173.2L54.8 205.9L55.6 211.9L56.4 201.7L57.1 211.7L57.9 215.2L58.6 224.6L59.4 232.2L60.1 233.4L60.9 234.9L61.7 235.7L62.4 236.2L63.2 258.4L63.9 236.5L64.7 261.5L65.4 239.7L66.2 259.2L67.0 238.2L67.7 261.5L68.5 255.9L69.2 263.2L70.0 259.4L70.7 244.8L71.5 243.3L72.3 246.2L73.0 264.7L73.8 247.5L74.5 264.2L75.3 249.0L76.0 250.0L76.8 261.6L77.6 272.3L78.3 253.1L79.1 268.8L79.8 254.0L80.6 254.7L81.3 271.3L82.1 257.4L82.9 259.2L83.6 258.3L84.4 277.0L85.1 278.6L85.9 261.2L86.6 262.5L87.4 272.6L88.2 263.7L88.9 264.5L89.7 265.5L90.4 279.2L91.2 266.5L91.9 268.8L92.7 278.2L93.5 284.7L94.2 284.8L95.0 281.0L95.7 271.4L96.5 273.6L97.2 272.7L98.0 282.5L98.8 275.3L99.5 276.5L100.3 277.4L101.0 277.2L101.8 278.8L102.5 280.2L103.3 280.4L104.1 257.3L104.8 257.3L105.6 290.3L106.3 283.7L107.1 288.0L107.8 287.9L108.6 283.4L109.9 287.9L111.1 283.8L112.4 287.5L113.6 287.7L114.9 287.4L116.2 285.2L117.4 287.5L118.7 286.2L120.0 284.6L121.2 286.0L122.5 284.2L123.7 284.7L125.0 285.5L126.3 285.8L127.5 286.4L128.8 284.0L130.0 286.2L131.3 284.0L132.6 283.5L133.8 284.5L135.1 285.5L136.4 283.5L137.6 283.2L138.9 283.8L140.1 284.3L141.4 284.5L142.7 284.5L143.9 284.7L145.2 283.3L146.5 283.8L147.7 284.3L149.0 283.8L150.2 283.1L151.5 283.4L152.8 283.1L154.0 283.2L155.3 282.6L156.5 282.5L157.8 283.2L159.1 282.9L160.3 282.7L161.6 282.0L162.9 282.1L164.1 282.5L165.4 282.5L166.6 282.0L167.9 281.7L169.2 281.5L170.4 282.0L171.7 281.4L172.9 281.5L174.2 281.7L175.5 281.1L176.7 281.8L178.0 281.2L179.3 281.8L180.5 281.6L181.8 280.9L183.0 281.5L184.3 280.9L185.6 280.9L186.8 280.7L188.1 281.0L189.4 281.0L190.6 281.0L191.9 280.4L193.1 280.5L194.4 280.1L195.7 280.1L196.9 280.8L198.2 280.3L199.4 280.7L200.7 280.7L202.0 280.7L203.2 279.9L204.5 280.0L205.8 279.9L207.0 280.4L208.3 280.1L209.5 280.0L210.8 280.3L212.1 280.1L213.3 280.5L214.6 280.6L215.8 280.4L217.1 279.8L218.4 280.1L219.6 279.8L220.9 280.2L222.2 280.4L223.4 279.9L224.7 279.8L225.9 280.6L227.2 280.0L228.5 280.5L229.7 280.5L231.0 279.7L232.3 280.5L233.5 280.3L234.8 279.6L236.0 280.1L237.3 280.4L238.6 280.4L239.8 280.3L241.1 279.8L242.3 280.4L243.6 279.6L244.9 280.1L246.1 279.5L247.4 279.4L248.7 279.5L249.9 279.3L251.2 279.0L252.4 279.3L253.7 278.8L255.0 279.3L256.2 279.3L257.5 278.4L258.7 279.0L260.0 278.7L261.3 278.8L262.5 278.9L263.8 279.1L265.1 278.3L266.3 278.2L267.6 278.1L268.8 278.9L270.1 278.8L271.4 278.4L272.6 278.0L273.9 278.4L275.1 278.2L276.4 278.2L277.7 278.6L278.9 278.3L280.2 278.5L281.5 278.5L282.7 278.6L283.7 277.7L284.7 276.8L285.7 275.4L286.8 272.6L287.8 271.1L288.8 262.7L289.8 254.0L290.8 244.8L291.8 239.9L292.8 233.2L293.8 227.5L294.8 222.5L295.8 216.1L296.9 210.4L297.9 204.4L298.9 197.2L299.9 192.3L300.9 186.5L301.9 179.4L302.9 174.6L303.9 170.2L304.9 166.0L305.9 162.1L306.9 156.8L308.0 152.4L309.0 146.7L310.0 140.5L311.0 134.9L312.0 128.2L313.0 122.3L314.0 116.9L315.0 112.3L316.0 106.6L317.0 101.7L318.0 98.5L319.1 93.3L320.1 89.8L321.1 86.7L322.1 84.0L323.1 79.7L324.1 76.8L325.1 75.0L326.1 71.6L327.1 69.6L328.1 67.2L329.2 64.3L330.2 62.3L331.2 60.1L332.2 57.7L333.2 55.4L334.2 53.3L335.2 51.6L336.2 49.9L337.2 48.5L338.2 47.6L339.2 46.4L340.3 44.9L341.3 44.3L342.3 43.3L343.3 43.5L344.3 42.6L345.3 40.7L346.3 40.5L347.3 39.8L348.3 40.1L349.3 39.0L350.4 37.6L351.4 37.4L352.4 36.2L353.4 36.9L354.4 35.9L355.4 34.4L356.4 34.8L357.4 33.2L358.4 33.3L359.4 33.9L360.4 33.5L361.5 30.5L362.5 32.6L363.5 32.0L364.5 31.2L365.5 29.7L366.5 28.9L367.5 29.5L368.5 29.1L369.5 27.8L370.5 28.9L371.5 28.4L372.6 27.6L373.6 27.3L374.6 28.8L375.6 28.4L376.6 28.2L377.6 26.3L378.6 26.2L379.6 25.2L380.6 25.6L381.6 26.9L382.7 25.3L383.7 24.5L384.7 26.1L385.7 26.9L386.7 25.8L387.7 26.0L388.7 26.2L389.7 26.6L390.7 26.3L391.7 24.1L392.7 26.4L393.8 24.7L394.8 25.8L395.8 26.9L396.8 22.8L397.8 26.1L398.8 26.8L399.8 25.0L400.8 23.4L401.8 24.5L402.8 22.4L403.8 25.4L404.9 24.6L405.9 23.4L406.9 25.1L407.9 23.5L408.9 25.1L409.9 27.2L410.9 27.3L411.9 23.2L412.9 23.4L413.9 22.2L415.0 23.8L416.0 24.6L417.0 27.4L418.0 23.2L419.0 28.1L420.0 26.4L421.0 28.4L422.0 27.1L423.0 27.8L424.0 30.2L425.0 35.9" stroke="#ff0000" stroke-width="2.1" fill="none" stroke-linejoin="round"/><path d="M48.0 62.8 L49.7 62.8 L49.7 62.2 L51.3 62.2 L51.3 62.6 L53.0 62.6 L53.0 62.2 L54.2 62.2 L54.2 61.3 L55.5 61.3 L55.5 60.7 L55.8 60.7 L55.8 61.0 L56.0 61.0 L56.0 61.8 L56.3 61.8 L56.3 64.1 L57.1 64.1 L57.1 67.0 L58.0 67.0 L58.0 66.6 L58.7 66.6 L58.7 69.7 L59.3 69.7 L59.3 70.3 L60.0 70.3 L60.0 57.5 L60.3 57.5 L60.3 71.8 L60.6 71.8 L60.6 59.5 L60.9 59.5 L60.9 63.7 L61.1 63.7 L61.1 74.9 L61.4 74.9 L61.4 79.2 L61.7 79.2 L61.7 79.9 L62.0 79.9 L62.0 80.8 L62.5 80.8 L62.5 68.0 L63.0 68.0 L63.0 82.7 L63.5 82.7 L63.5 84.8 L64.0 84.8 L64.0 85.3 L64.2 85.3 L64.2 88.9 L64.5 88.9 L64.5 88.1 L64.8 88.1 L64.8 90.9 L65.0 90.9 L65.0 83.6 L65.2 83.6 L65.2 94.0 L65.5 94.0 L65.5 93.6 L65.9 93.6 L65.9 95.5 L66.2 95.5 L66.2 95.8 L66.6 95.8 L66.6 98.3 L66.6 98.3 L66.6 98.8 L66.6 98.8 L66.6 102.1 L66.6 102.1 L66.6 101.2 L66.6 101.2 L66.6 103.2 L66.7 103.2 L66.7 104.0 L66.7 104.0 L66.7 105.4 L66.7 105.4 L66.7 109.0 L66.7 109.0 L66.7 110.4 L66.7 110.4 L66.7 109.3 L66.7 109.3 L66.7 110.4 L66.7 110.4 L66.7 112.2 L66.7 112.2 L66.7 114.8 L66.7 114.8 L66.7 115.7 L66.7 115.7 L66.7 116.1 L66.8 116.1 L66.8 116.9 L66.8 116.9 L66.8 119.8 L66.8 119.8 L66.8 120.8 L66.8 120.8 L66.8 121.9 L66.8 121.9 L66.8 124.9 L67.0 124.9 L67.0 125.5 L67.1 125.5 L67.1 126.4 L67.2 126.4 L67.2 128.1 L67.4 128.1 L67.4 129.4 L67.5 129.4 L67.5 131.3 L67.7 131.3 L67.7 132.3 L67.8 132.3 L67.8 120.8 L68.0 120.8 L68.0 135.9 L69.2 135.9 L69.2 136.3 L70.5 136.3 L70.5 122.1 L71.8 122.1 L71.8 137.6 L73.0 137.6 L73.0 138.5 L73.2 138.5 L73.2 140.9 L73.4 140.9 L73.4 142.1 L73.6 142.1 L73.6 143.4 L73.8 143.4 L73.8 143.7 L74.0 143.7 L74.0 144.0 L74.2 144.0 L74.2 148.1 L74.4 148.1 L74.4 147.5 L74.6 147.5 L74.6 147.5 L74.7 147.5 L74.7 150.7 L74.9 150.7 L74.9 153.5 L75.1 153.5 L75.1 154.0 L75.3 154.0 L75.3 154.5 L75.5 154.5 L75.5 157.0 L75.7 157.0 L75.7 156.4 L75.9 156.4 L75.9 157.5 L76.1 157.5 L76.1 159.1 L76.3 159.1 L76.3 154.4 L76.7 154.4 L76.7 161.3 L77.1 161.3 L77.1 165.5 L77.5 165.5 L77.5 166.5 L77.9 166.5 L77.9 167.8 L78.4 167.8 L78.4 167.8 L78.8 167.8 L78.8 169.9 L79.2 169.9 L79.2 169.4 L79.6 169.4 L79.6 171.2 L80.0 171.2 L80.0 172.1 L80.4 172.1 L80.4 176.0 L80.8 176.0 L80.8 175.2 L81.2 175.2 L81.2 177.9 L81.6 177.9 L81.6 179.6 L82.0 179.6 L82.0 179.5 L82.4 179.5 L82.4 182.2 L82.8 182.2 L82.8 182.0 L83.2 182.0 L83.2 182.5 L83.6 182.5 L83.6 183.7 L84.0 183.7 L84.0 185.4 L84.4 185.4 L84.4 186.9 L84.8 186.9 L84.8 188.8 L85.2 188.8 L85.2 191.5 L85.6 191.5 L85.6 192.4 L86.0 192.4 L86.0 187.2 L86.4 187.2 L86.4 195.1 L86.8 195.1 L86.8 193.9 L87.2 193.9 L87.2 196.1 L87.5 196.1 L87.5 197.5 L87.8 197.5 L87.8 200.2 L88.0 200.2 L88.0 201.5 L88.3 201.5 L88.3 202.1 L88.6 202.1 L88.6 204.5 L88.9 204.5 L88.9 204.2 L89.2 204.2 L89.2 207.5 L89.4 207.5 L89.4 207.3 L89.7 207.3 L89.7 201.7 L90.0 201.7 L90.0 205.3 L90.2 205.3 L90.2 211.4 L90.5 211.4 L90.5 214.5 L90.8 214.5 L90.8 213.9 L91.0 213.9 L91.0 217.0 L91.2 217.0 L91.2 216.7 L91.5 216.7 L91.5 208.6 L91.8 208.6 L91.8 215.1 L92.0 215.1 L92.0 219.6 L92.2 219.6 L92.2 221.0 L92.5 221.0 L92.5 222.4 L92.6 222.4 L92.6 212.5 L92.8 212.5 L92.8 225.2 L92.9 225.2 L92.9 227.0 L93.0 227.0 L93.0 217.3 L93.2 217.3 L93.2 229.6 L93.3 229.6 L93.3 230.7 L93.4 230.7 L93.4 231.8 L93.5 231.8 L93.5 232.7 L93.7 232.7 L93.7 236.2 L93.8 236.2 L93.8 237.5 L93.8 237.5 L93.8 236.3 L93.9 236.3 L93.9 238.8 L93.9 238.8 L93.9 240.3 L94.0 240.3 L94.0 240.6 L94.0 240.6 L94.0 232.6 L94.0 232.6 L94.0 243.4 L94.1 243.4 L94.1 246.4 L94.1 246.4 L94.1 245.8 L94.1 245.8 L94.1 237.9 L94.2 237.9 L94.2 249.8 L94.2 249.8 L94.2 251.9 L94.3 251.9 L94.3 252.1 L94.3 252.1 L94.3 253.9 L94.7 253.9 L94.7 249.1 L95.2 249.1 L95.2 256.3 L95.6 256.3 L95.6 256.0 L96.0 256.0 L96.0 259.5 L97.3 259.5 L97.3 259.4 L98.7 259.4 L98.7 260.6 L100.0 260.6 L100.0 260.9 L101.5 260.9 L101.5 262.7 L103.0 262.7 L103.0 261.2 L104.5 261.2 L104.5 262.0 L106.0 262.0 L106.0 263.1 L107.4 263.1 L107.4 262.1 L108.8 262.1 L108.8 262.1 L110.2 262.1 L110.2 260.7 L111.6 260.7 L111.6 264.5 L113.0 264.5 L113.0 263.9 L114.4 263.9 L114.4 263.4 L115.8 263.4 L115.8 265.6 L117.2 265.6 L117.2 265.3 L118.6 265.3 L118.6 258.6 L120.0 258.6 L120.0 263.7 L120.0 274.4 L118.6 274.4 L118.6 273.7 L117.1 273.7 L117.1 275.9 L115.7 275.9 L115.7 273.9 L114.3 273.9 L114.3 273.8 L112.9 273.8 L112.9 273.4 L111.4 273.4 L111.4 273.4 L110.0 273.4 L110.0 273.8 L108.6 273.8 L108.6 274.5 L107.1 274.5 L107.1 274.5 L105.7 274.5 L105.7 273.2 L104.3 273.2 L104.3 272.7 L102.9 272.7 L102.9 273.4 L101.4 273.4 L101.4 272.7 L100.0 272.7 L100.0 271.2 L98.8 271.2 L98.8 270.4 L97.5 270.4 L97.5 269.5 L96.2 269.5 L96.2 269.9 L95.0 269.9 L95.0 268.7 L93.8 268.7 L93.8 269.8 L92.5 269.8 L92.5 266.9 L91.2 266.9 L91.2 265.4 L90.0 265.4 L90.0 263.1 L89.3 263.1 L89.3 263.7 L88.7 263.7 L88.7 262.5 L88.0 262.5 L88.0 260.0 L87.3 260.0 L87.3 259.6 L86.7 259.6 L86.7 258.1 L86.0 258.1 L86.0 256.5 L85.4 256.5 L85.4 254.8 L84.9 254.8 L84.9 253.5 L84.3 253.5 L84.3 253.0 L83.7 253.0 L83.7 252.1 L83.1 252.1 L83.1 250.4 L82.6 250.4 L82.6 249.6 L82.0 249.6 L82.0 247.6 L81.7 247.6 L81.7 246.6 L81.3 246.6 L81.3 245.2 L81.0 245.2 L81.0 244.1 L80.7 244.1 L80.7 242.4 L80.3 242.4 L80.3 241.3 L80.0 241.3 L80.0 240.3 L79.7 240.3 L79.7 238.2 L79.3 238.2 L79.3 238.2 L79.0 238.2 L79.0 236.8 L78.7 236.8 L78.7 239.0 L78.5 239.0 L78.5 233.7 L78.2 233.7 L78.2 231.9 L77.9 231.9 L77.9 230.9 L77.7 230.9 L77.7 230.2 L77.4 230.2 L77.4 228.1 L77.1 228.1 L77.1 225.7 L76.9 225.7 L76.9 225.4 L76.6 225.4 L76.6 224.2 L76.3 224.2 L76.3 222.7 L76.1 222.7 L76.1 221.7 L75.8 221.7 L75.8 220.0 L75.5 220.0 L75.5 218.6 L75.3 218.6 L75.3 217.0 L75.0 217.0 L75.0 216.3 L74.6 216.3 L74.6 213.7 L74.2 213.7 L74.2 213.0 L73.8 213.0 L73.8 211.1 L73.4 211.1 L73.4 210.9 L73.0 210.9 L73.0 210.1 L72.6 210.1 L72.6 208.6 L72.1 208.6 L72.1 207.3 L71.7 207.3 L71.7 205.5 L71.3 205.5 L71.3 203.6 L70.9 203.6 L70.9 203.0 L70.5 203.0 L70.5 201.1 L70.1 201.1 L70.1 200.9 L69.7 200.9 L69.7 199.3 L69.3 199.3 L69.3 198.5 L68.9 198.5 L68.9 196.1 L68.5 196.1 L68.5 195.0 L68.1 195.0 L68.1 193.8 L67.7 193.8 L67.7 193.1 L67.4 193.1 L67.4 191.7 L67.0 191.7 L67.0 189.3 L66.6 189.3 L66.6 193.1 L66.2 193.1 L66.2 187.8 L65.8 187.8 L65.8 187.1 L65.4 187.1 L65.4 184.4 L65.2 184.4 L65.2 183.5 L65.0 183.5 L65.0 182.1 L64.9 182.1 L64.9 185.9 L64.7 185.9 L64.7 181.9 L64.5 181.9 L64.5 178.9 L64.3 178.9 L64.3 177.7 L64.1 177.7 L64.1 176.6 L64.0 176.6 L64.0 174.8 L63.8 174.8 L63.8 172.8 L63.6 172.8 L63.6 171.1 L63.4 171.1 L63.4 169.7 L63.2 169.7 L63.2 169.1 L63.0 169.1 L63.0 167.8 L62.9 167.8 L62.9 166.8 L62.7 166.8 L62.7 165.5 L62.5 165.5 L62.5 163.1 L62.4 163.1 L62.4 163.4 L62.3 163.4 L62.3 161.7 L62.2 161.7 L62.2 160.3 L62.1 160.3 L62.1 159.3 L62.1 159.3 L62.1 157.1 L62.0 157.1 L62.0 155.2 L61.9 155.2 L61.9 156.1 L61.8 156.1 L61.8 153.6 L61.7 153.6 L61.7 151.7 L61.6 151.7 L61.6 150.2 L61.5 150.2 L61.5 148.5 L61.4 148.5 L61.4 148.7 L61.4 148.7 L61.4 146.3 L61.3 146.3 L61.3 145.3 L61.2 145.3 L61.2 143.7 L61.1 143.7 L61.1 141.9 L61.0 141.9 L61.0 141.8 L60.6 141.8 L60.6 138.9 L60.1 138.9 L60.1 138.8 L59.7 138.8 L59.7 138.0 L59.2 138.0 L59.2 136.8 L58.8 136.8 L58.8 134.9 L58.4 134.9 L58.4 134.3 L57.9 134.3 L57.9 133.1 L57.5 133.1 L57.5 130.2 L57.1 130.2 L57.1 129.8 L56.6 129.8 L56.6 127.8 L56.2 127.8 L56.2 127.2 L55.8 127.2 L55.8 129.8 L55.3 129.8 L55.3 125.6 L54.9 125.6 L54.9 123.2 L54.4 123.2 L54.4 125.0 L54.0 125.0 L54.0 120.4 L53.8 120.4 L53.8 120.0 L53.6 120.0 L53.6 118.3 L53.4 118.3 L53.4 116.9 L53.2 116.9 L53.2 115.3 L53.0 115.3 L53.0 113.8 L52.8 113.8 L52.8 114.0 L52.6 114.0 L52.6 111.3 L52.4 111.3 L52.4 110.9 L52.2 110.9 L52.2 108.5 L52.0 108.5 L52.0 107.7 L51.8 107.7 L51.8 105.4 L51.6 105.4 L51.6 104.7 L51.4 104.7 L51.4 103.9 L51.2 103.9 L51.2 103.3 L51.0 103.3 L51.0 101.4 L50.2 101.4 L50.2 100.4 L49.5 100.4 L49.5 98.1 L48.8 98.1 L48.8 96.4 L48.0 96.4 L48.0 96.9 Z" fill="#000"/><path d="M95.5 264.3L96.7 269.1L98.0 265.3L99.3 269.3L100.5 266.2L101.8 269.0L103.0 264.9L104.3 269.7L105.6 266.5L106.8 271.1L108.1 268.1L109.4 271.6L110.6 269.4L111.9 273.0L113.1 270.3L114.4 272.5L115.7 271.1L116.9 273.2L118.2 271.0L119.4 274.6L120.7 270.8L122.0 272.8L123.2 270.7L124.5 274.2L125.8 270.8L127.0 273.2L128.3 269.9L129.5 272.8L130.8 269.3L132.1 272.2L133.3 268.4L134.6 271.5L135.9 266.9L137.1 270.7L138.4 267.8L139.6 269.1L140.9 265.6L142.2 269.0L143.4 265.7L144.7 268.5L145.9 263.7L147.2 266.8L148.5 262.9L149.7 264.3L151.0 262.8L152.3 264.8L153.5 262.9L154.8 264.4L156.0 262.7L157.3 264.2L158.6 261.9L159.8 264.3L161.1 261.5L162.3 263.6L163.6 262.0L164.9 263.0L166.1 261.5L167.4 263.2L168.7 261.8L169.9 263.5L171.2 261.2L172.4 263.1L173.7 261.4L175.0 262.5L176.2 261.5L177.5 262.5L178.8 261.1L180.0 262.5L181.3 260.9L182.5 262.8L183.8 260.2L185.1 262.0L186.3 260.6L187.6 261.9L188.8 260.2L190.1 262.7L191.4 260.6L192.6 262.3L193.9 260.4L195.2 261.4L196.4 259.8L197.7 261.7L198.9 260.3L200.2 261.7L201.5 260.2L202.7 261.6L204.0 260.0L205.2 261.6L206.5 259.8L207.8 261.4L209.0 260.3L210.3 261.2L211.6 260.2L212.8 261.6L214.1 259.9L215.3 261.9L216.6 259.7L217.9 261.7L219.1 259.2L220.4 261.0L221.7 260.2L222.9 261.1L224.2 259.8L225.4 261.5L226.7 259.3L228.0 261.2L229.2 259.1L230.5 260.8L231.7 259.2L233.0 261.0L234.3 259.1L235.5 260.8L236.8 259.0L238.1 261.5L239.3 258.9L240.6 261.3L241.8 259.7L243.1 261.7L244.4 259.4L245.6 260.7L246.9 259.2L248.1 261.1L249.4 259.3L250.7 260.7L251.9 259.7L253.2 261.1L254.5 259.3L255.7 260.6L257.0 259.2L258.2 261.2L259.5 258.9L260.8 260.9L262.0 259.3L263.3 260.8L264.6 259.4L265.8 260.6L267.1 259.2L268.3 260.5L269.6 258.9L270.9 261.1L272.1 259.0L273.4 260.3L274.6 259.2L275.9 260.8L277.2 259.5L278.4 261.3L279.7 258.8L281.0 260.8L282.2 258.8L283.5 260.5L284.7 259.3L286.0 260.8L287.3 258.7L288.5 260.9L289.8 259.5L291.0 260.9L292.3 258.5L293.6 261.0L294.8 258.5L296.1 261.2L297.4 259.2L298.6 260.5L299.9 258.8L301.1 261.2L302.4 259.0L303.7 261.1L304.9 258.5L306.2 260.7L307.5 258.7L308.7 261.1L310.0 258.5L311.2 260.4L312.5 258.4L313.8 260.3L315.0 258.9L316.3 261.1L317.5 258.4L318.8 260.4L320.1 259.0L321.3 260.7L322.6 258.4L323.9 260.7L325.1 258.3L326.4 260.8L327.6 258.4L328.9 260.6L330.2 258.8L331.4 260.4L332.7 258.7L333.9 260.5L335.2 258.3L336.5 260.2L337.7 259.1L339.0 260.7L340.3 258.9L341.5 260.3L342.8 259.0L344.0 260.7L345.3 258.8L346.6 260.2L347.8 258.3L349.1 260.4L350.4 258.8L351.6 260.8L352.9 258.6L354.1 260.2L355.4 258.0L356.7 260.6L357.9 258.2L359.2 260.0L360.4 258.2L361.7 260.4L363.0 258.1L364.2 260.1L365.5 258.2L366.8 260.6L368.0 258.6L369.3 260.4L370.5 258.1L371.8 260.7L373.1 258.0L374.3 260.5L375.6 258.8L376.8 260.3L378.1 258.2L379.4 259.7L380.6 258.4L381.9 260.5L383.2 257.8L384.4 260.5L385.7 258.7L386.9 260.1L388.2 257.8L389.5 260.1L390.7 258.3L392.0 259.4L393.2 257.6L394.5 260.2L395.8 257.9L397.0 259.7L398.3 257.6L399.6 260.1L400.8 257.7L402.1 259.8L403.3 258.1L404.6 259.4L405.9 258.0L407.1 259.4L408.4 257.8L409.7 259.1L410.9 257.5L412.2 259.3L413.4 258.0L414.7 259.2L416.0 257.7L417.2 259.3L418.5 257.3L419.7 258.9L421.0 257.8L422.3 259.1L423.5 257.8L424.8 259.5L426.1 257.8" stroke="#000000" stroke-width="1.8" fill="none" stroke-linejoin="round"/><path d="M95.5 259.3L96.7 262.5L98.0 259.4L99.3 263.2L100.5 260.6L101.8 264.9L103.0 262.7L104.3 266.1L105.6 263.6L106.8 266.8L108.1 264.6L109.4 266.7L110.6 264.8L111.9 268.9L113.1 266.1L114.4 268.4L115.7 265.9L116.9 270.5L118.2 266.7L119.4 269.8L120.7 265.8L122.0 269.0L123.2 265.9L124.5 269.3L125.8 267.1L127.0 268.8L128.3 266.6L129.5 269.8L130.8 266.4L132.1 268.9L133.3 265.1L134.6 268.0L135.9 264.8L137.1 267.0L138.4 265.2L139.6 266.8L140.9 263.5L142.2 266.5L143.4 263.4L144.7 266.0L145.9 262.3L147.2 264.6L148.5 261.7L149.7 263.7L151.0 261.9L152.3 263.5L153.5 261.5L154.8 263.6L156.0 261.1L157.3 262.9L158.6 260.7L159.8 262.6L161.1 261.2L162.3 263.1L163.6 261.4L164.9 262.7L166.1 261.4L167.4 262.8L168.7 260.5L169.9 262.5L171.2 260.2L172.4 262.1L173.7 260.3L175.0 262.4L176.2 260.3L177.5 262.1L178.8 259.9L180.0 262.5L181.3 260.2L182.5 262.1L183.8 260.6L185.1 262.1L186.3 259.9L187.6 262.3L188.8 259.6L190.1 261.4L191.4 259.9L192.6 261.7L193.9 260.2L195.2 261.4L196.4 260.0L197.7 260.9L198.9 260.0L200.2 261.6L201.5 259.9L202.7 261.0L204.0 259.6L205.2 261.6L206.5 259.9L207.8 261.1L209.0 259.3L210.3 261.6L211.6 259.0L212.8 261.5L214.1 259.6L215.3 261.0L216.6 259.5L217.9 261.5L219.1 258.8L220.4 260.7L221.7 259.6L222.9 260.7L224.2 259.5L225.4 261.0L226.7 259.1L228.0 260.7L229.2 259.7L230.5 260.9L231.7 259.3L233.0 261.0L234.3 258.6L235.5 261.1L236.8 259.1L238.1 261.0L239.3 258.9L240.6 260.4L241.8 258.6L243.1 261.1L244.4 258.6L245.6 261.1L246.9 259.1L248.1 260.6L249.4 259.4L250.7 260.9L251.9 259.4L253.2 260.2L254.5 259.2L255.7 260.3L257.0 259.0L258.2 260.2L259.5 259.4L260.8 260.2L262.0 259.2L263.3 260.5L264.6 259.3L265.8 261.0L267.1 258.7L268.3 260.2L269.6 259.0L270.9 260.4L272.1 258.9L273.4 260.1L274.6 258.3L275.9 261.0L277.2 258.7L278.4 260.5L279.7 259.1L281.0 260.0L282.2 258.8L283.5 260.2L284.7 258.3L286.0 260.1L287.3 259.1L288.5 260.9L289.8 258.6L291.0 260.0L292.3 258.5L293.6 259.9L294.8 258.5L296.1 260.9L297.4 258.1L298.6 260.5L299.9 258.8L301.1 260.2L302.4 258.9L303.7 260.6L304.9 258.4L306.2 260.6L307.5 258.6L308.7 259.9L310.0 258.1L311.2 260.7L312.5 258.0L313.8 260.5L315.0 258.1L316.3 260.4L317.5 258.7L318.8 260.2L320.1 258.5L321.3 259.6L322.6 258.8L323.9 259.9L325.1 258.6L326.4 260.3L327.6 257.8L328.9 260.0L330.2 257.8L331.4 260.6L332.7 257.8L333.9 259.9L335.2 258.5L336.5 259.7L337.7 258.5L339.0 259.7L340.3 258.1L341.5 260.4L342.8 257.8L344.0 259.9L345.3 258.0L346.6 260.3L347.8 258.6L349.1 260.1L350.4 257.7L351.6 260.2L352.9 257.8L354.1 259.9L355.4 258.4L356.7 260.2L357.9 258.2L359.2 260.2L360.4 257.5L361.7 259.7L363.0 258.1L364.2 260.3L365.5 257.8L366.8 259.4L368.0 258.4L369.3 259.4L370.5 257.5L371.8 260.1L373.1 258.3L374.3 260.1L375.6 257.4L376.8 259.9L378.1 258.1L379.4 259.7L380.6 258.3L381.9 259.1L383.2 257.3L384.4 259.8L385.7 257.8L386.9 260.0L388.2 257.8L389.5 259.9L390.7 257.4L392.0 259.2L393.2 257.9L394.5 259.2L395.8 257.9L397.0 259.5L398.3 257.9L399.6 259.3L400.8 258.0L402.1 259.8L403.3 257.7L404.6 259.3L405.9 257.4L407.1 259.7L408.4 257.5L409.7 259.7L410.9 257.4L412.2 259.2L413.4 257.3L414.7 258.6L416.0 257.4L417.2 258.8L418.5 257.8L419.7 259.4L421.0 257.6L422.3 259.0L423.5 257.0L424.8 259.1L426.1 257.4" stroke="#000000" stroke-width="1.8" fill="none" stroke-linejoin="round"/><path d="M70.2 153.3L71.8 179.5L73.3 162.6L74.8 190.3L76.3 182.5L77.8 207.0L79.3 190.4L80.8 215.3L82.4 206.1L83.9 223.4L85.4 220.7L86.9 233.6" stroke="#ffff00" stroke-width="1.3" fill="none" stroke-linejoin="round" stroke-dasharray="1.1 2.5"/><path d="M66.2 69.3L67.5 122.2L68.7 135.4L70.0 148.2L71.3 143.6L72.5 153.4L73.8 146.5L75.0 160.4L76.3 167.6L77.6 181.5L78.8 181.5L80.1 191.2L81.3 187.8L82.6 198.5L83.9 195.2L85.1 204.6L86.4 205.5L87.7 213.9L88.9 214.8L90.2 230.2L91.4 236.2L92.7 248.5L94.0 249.7L95.2 255.2L96.5 256.4L97.7 259.0L99.0 259.6L100.3 262.9L101.5 262.3L102.8 263.7L104.1 263.5L105.3 264.9L106.6 264.6L107.8 266.4L109.1 265.4L110.4 266.9L111.6 265.3L112.9 266.7L114.2 266.1L115.4 267.4L116.7 266.7L117.9 267.7L119.2 266.2L120.5 267.3L121.7 266.1L123.0 266.9L124.2 265.8L125.5 267.2L126.8 265.7L128.0 266.2L129.3 265.5L130.6 266.2L131.8 265.2L133.1 265.6L134.3 264.5L135.6 265.8L136.9 264.2L138.1 265.1L139.4 263.8L140.6 264.6L141.9 263.5L143.2 264.3L144.4 263.1L145.7 264.5L147.0 263.2L148.2 263.9L149.5 262.5L150.7 263.5L152.0 262.6L153.3 263.9L154.5 261.9L155.8 263.1L157.0 262.0L158.3 263.6L159.6 262.1L160.8 263.2L162.1 262.1L163.4 262.8L164.6 261.5L165.9 262.8L167.1 261.3L168.4 262.3L169.7 261.4L170.9 262.7L172.2 261.1L173.5 262.2L174.7 261.1L176.0 262.5L177.2 260.8L178.5 261.6L179.8 260.5L181.0 261.7L182.3 260.6L183.5 261.4L184.8 260.4L186.1 261.4L187.3 260.5L188.6 261.4L189.9 260.4L191.1 261.5L192.4 260.4L193.6 261.4L194.9 259.8L196.2 261.2L197.4 259.8L198.7 261.0L199.9 259.8L201.2 261.1L202.5 260.1L203.7 261.4L205.0 260.0L206.3 261.0L207.5 259.6L208.8 260.9L210.0 259.7L211.3 260.8L212.6 259.6L213.8 260.8L215.1 260.1L216.4 261.3L217.6 260.0L218.9 261.2L220.1 259.3L221.4 261.0L222.7 260.0L223.9 260.5L225.2 259.8L226.4 260.7L227.7 259.5L229.0 261.1L230.2 259.7L231.5 260.5L232.8 259.5L234.0 260.4L235.3 259.8L236.5 260.7L237.8 259.3L239.1 260.3L240.3 259.5L241.6 260.8L242.8 259.2L244.1 260.5L245.4 259.1L246.6 260.3L247.9 259.2L249.2 260.7L250.4 259.0L251.7 260.5L252.9 259.6L254.2 260.2L255.5 259.3L256.7 260.2L258.0 259.2L259.3 260.2L260.5 259.1L261.8 260.3L263.0 259.6L264.3 260.2L265.6 259.3L266.8 260.5L268.1 259.3L269.3 260.2L270.6 259.2L271.9 260.7L273.1 259.2L274.4 260.7L275.7 259.6L276.9 260.8L278.2 258.9L279.4 260.4L280.7 259.2L282.0 260.4L283.2 258.9L284.5 260.1L285.7 259.1L287.0 260.4L288.3 259.3L289.5 260.5L290.8 259.0L292.1 260.1L293.3 259.0L294.6 260.3L295.8 259.2L297.1 260.4L298.4 259.5L299.6 260.4L300.9 259.2L302.2 260.6L303.4 259.3L304.7 260.5L305.9 258.9L307.2 260.4L308.5 258.8L309.7 260.0L311.0 259.0L312.2 260.4L313.5 259.0L314.8 260.2L316.0 259.4L317.3 260.0L318.6 259.0L319.8 260.0L321.1 259.4L322.3 260.1L323.6 259.1L324.9 260.3L326.1 259.4L327.4 260.4L328.6 259.1L329.9 260.4L331.2 259.4L332.4 260.5L333.7 258.9L335.0 260.5L336.2 258.6L337.5 260.4L338.7 259.3L340.0 260.1L341.3 259.2L342.5 260.4L343.8 259.2L345.1 260.0L346.3 259.2L347.6 259.9L348.8 258.6L350.1 260.5L351.4 259.0L352.6 260.3L353.9 259.0L355.1 260.1L356.4 259.0L357.7 260.2L358.9 259.1L360.2 259.9L361.5 258.9L362.7 259.9L364.0 258.9L365.2 260.4L366.5 259.2L367.8 259.8L369.0 258.7L370.3 259.8L371.5 259.0L372.8 260.3L374.1 258.8L375.3 259.9L376.6 259.2L377.9 259.9L379.1 259.0L380.4 260.2L381.6 258.5L382.9 260.2L384.2 258.5L385.4 260.3L386.7 258.5L388.0 260.3L389.2 258.5L390.5 259.7L391.7 258.9L393.0 259.8L394.3 258.7L395.5 260.0L396.8 258.9L398.0 260.2L399.3 258.8L400.6 259.8L401.8 258.9L403.1 259.9L404.4 258.7L405.6 260.0L406.9 258.8L408.1 259.7L409.4 258.8L410.7 259.8L411.9 259.0L413.2 259.9L414.4 258.9L415.7 260.1L417.0 258.6L418.2 259.6L419.5 258.6L420.8 259.8L422.0 258.7L423.3 260.0L424.5 258.5L425.8 260.1" stroke="#000000" stroke-width="2.2" fill="none" stroke-linejoin="round" stroke-dasharray="1.6 1.6"/><path d="M48 323V41.5" stroke="#222" stroke-width="1.6"/><path d="M48.2 41.5V9.5" stroke="#ff00ff" stroke-width="1.6"/><circle cx="425.6" cy="257.3" r="1.9" fill="#000"/><circle cx="424.6" cy="258" r="1.3" fill="#0000ff"/><path d="M57.0 88V145" stroke="#00ff00" stroke-width="1.1" stroke-dasharray="1 2.6" opacity="0.8"/><path d="M58.6 90V150" stroke="#ffff00" stroke-width="1.1" stroke-dasharray="1 2.6" opacity="0.8"/><path d="M62.6 95V135" stroke="#00ffff" stroke-width="1.1" stroke-dasharray="1 2.6" opacity="0.8"/><path d="M65.0 100V140" stroke="#00ff00" stroke-width="1.1" stroke-dasharray="1 2.6" opacity="0.8"/><path d="M53.2 95V125" stroke="#ffff00" stroke-width="1.1" stroke-dasharray="1 2.6" opacity="0.8"/><path d="M54.4 100V130" stroke="#00ffff" stroke-width="1.1" stroke-dasharray="1 2.6" opacity="0.8"/><path d="M51.7 0V64" stroke="#ff00ff" stroke-width="2.5"/><path d="M53.1 41V65" stroke="#ff00ff" stroke-width="1.2"/><path d="M49.6 51V62" stroke="#0000ff" stroke-width="1.5"/><path d="M50.3 62V70" stroke="#00ff00" stroke-width="1.8"/><path d="M56.1 46V72" stroke="#00ff00" stroke-width="1.8"/><path d="M59.2 61V82" stroke="#00ff00" stroke-width="1.6"/><path d="M55 60V70" stroke="#000" stroke-width="1.6"/><path d="M52.6 63V70" stroke="#000" stroke-width="1.4"/><path d="M59.9 66V80" stroke="#000" stroke-width="1.4"/></g>
<clipPath id="cb"><rect x="568.55" y="4.49" width="404.75" height="318.49"/></clipPath>
<g clip-path="url(#cb)"><path d="M571.3 99.0L572.4 118.7L573.6 134.5L574.7 153.9L575.8 170.0L576.9 188.9L578.1 205.1L579.2 223.2L580.3 238.4L581.4 253.3L582.5 260.1L583.7 266.9L584.8 262.8L585.9 267.1L587.0 262.4L588.1 268.5L589.3 263.6L590.4 268.1L591.5 261.6L592.6 266.7L593.8 262.8L594.9 265.5L596.0 260.5L597.1 264.3L598.2 260.8L599.4 263.6L600.5 260.0L601.6 264.2L602.7 259.5L603.9 262.7L605.0 258.5L606.1 263.2L607.2 259.0L608.3 260.7L609.5 257.4L610.6 261.6L611.7 257.7L612.8 260.7L613.9 258.5L615.1 259.8L616.2 258.3L617.3 259.8L618.4 258.5L619.6 259.6L620.7 257.8L621.8 258.7L622.9 257.7L624.0 258.7L625.2 257.5L626.3 258.5L627.4 257.3L628.5 258.2L629.7 257.2L630.8 258.1L631.9 257.4L633.0 257.8L634.1 257.2L635.3 257.8L636.4 257.0L637.5 257.8L638.6 256.8L639.7 257.7L640.9 256.9L642.0 257.6L643.1 256.4L644.2 257.7L645.4 256.5L646.5 257.6L647.6 256.7L648.7 257.2L649.8 256.8L651.0 257.2L652.1 256.8L653.2 257.5L654.3 256.3L655.5 257.2L656.6 256.4L657.7 257.6L658.8 256.3L659.9 257.2L661.1 256.4L662.2 257.2L663.3 256.6L664.4 257.1L665.5 256.4L666.7 257.5L667.8 256.6L668.9 257.1L670.0 256.4L671.2 257.0L672.3 256.4L673.4 257.4L674.5 256.4L675.6 257.0L676.8 256.6L677.9 257.0L679.0 256.2L680.1 257.4L681.3 256.3L682.4 256.9L683.5 256.4L684.6 257.1L685.7 256.4L686.9 256.9L688.0 256.2L689.1 257.3L690.2 256.3L691.3 257.3L692.5 256.0L693.6 257.0L694.7 256.3L695.8 256.9L697.0 256.0L698.1 257.2L699.2 255.9L700.3 256.8L701.4 256.1L702.6 256.7L703.7 256.2L704.8 256.8L705.9 256.2L707.1 256.7L708.2 255.8L709.3 256.8L710.4 256.0L711.5 256.9L712.7 256.0L713.8 256.9L714.9 256.0L716.0 256.8L717.1 256.2L718.3 256.9L719.4 255.8L720.5 256.9L721.6 256.0L722.8 256.8L723.9 255.7L725.0 256.9L726.1 256.1L727.2 256.7L728.4 256.0L729.5 256.8L730.6 255.9L731.7 256.6L732.9 255.9L734.0 256.7L735.1 255.7L736.2 256.7L737.3 255.9L738.5 256.6L739.6 255.7L740.7 256.4L741.8 255.5L742.9 256.3L744.1 255.6L745.2 256.4L746.3 255.4L747.4 256.7L748.6 255.8L749.7 256.5L750.8 255.4L751.9 256.7L753.0 255.5L754.2 256.6L755.3 255.5L756.4 256.7L757.5 255.6L758.7 256.5L759.8 255.4L760.9 256.4L762.0 255.7L763.1 256.5L764.3 255.6L765.4 256.5L766.5 255.4L767.6 256.6L768.8 255.7L769.9 256.1L771.0 255.2L772.1 256.5L773.2 255.2L774.4 256.5L775.5 255.2L776.6 256.1L777.7 255.5L778.8 256.3L780.0 255.2L781.1 256.0L782.2 255.1L783.3 256.1L784.5 255.5L785.6 256.2L786.7 255.5L787.8 256.0L788.9 255.5L790.1 255.9L791.2 255.4L792.3 256.2L793.4 255.1L794.6 256.2L795.7 255.2L796.8 256.2L797.9 255.3L799.0 256.2L800.2 255.1L801.3 255.7L802.4 255.1L803.5 255.7L804.6 254.8L805.8 255.7L806.9 255.2L808.0 255.6L809.1 255.1L810.3 255.9L811.4 254.8L812.5 255.8L813.6 254.7L814.7 255.5L815.9 254.5L817.0 255.6L818.1 254.9L819.2 255.7L820.4 254.6L821.5 255.5L822.6 254.5L823.7 255.6L824.8 254.6L826.0 255.1L827.1 254.6L828.2 255.2L829.3 254.1L830.4 255.2L831.6 254.0L832.7 255.0L833.8 254.0L834.9 254.9L836.1 254.0L837.2 254.9L838.3 254.1L839.4 255.0L840.5 253.8L841.7 254.9L842.8 253.8L843.9 254.6L845.0 253.7L846.2 254.8L847.3 253.9L848.4 255.0L849.5 253.9L850.6 254.8L851.8 253.7L852.9 254.5L854.0 253.9L855.1 254.6L856.2 253.8L857.4 254.6L858.5 253.7L859.6 254.3L860.7 253.4L861.9 254.6L863.0 253.4L864.1 254.2L865.2 253.4L866.3 254.4L867.5 253.2L868.6 254.2L869.7 253.3L870.8 254.1L872.0 252.8L873.1 253.7L874.2 253.0L875.3 253.8L876.4 252.5L877.6 253.8L878.7 252.9L879.8 253.3L880.9 252.3L882.0 253.3L883.2 252.2L884.3 253.2L885.4 252.1L886.5 253.0L887.7 252.0L888.8 253.0L889.9 252.4L891.0 252.8L892.1 252.2L893.3 252.8L894.4 251.6L895.5 253.0L896.6 251.5L897.8 252.6L898.9 251.5L900.0 252.6L901.1 251.4L902.2 252.6L903.4 251.2L904.5 252.4L905.6 251.4L906.7 252.1L907.8 251.4L909.0 252.1L910.1 251.2L911.2 252.1L912.3 251.5L913.5 252.4L914.6 251.6L915.7 252.0L916.8 251.6L917.9 252.0L919.1 251.6L920.2 252.4L921.3 251.5L922.4 252.1L923.6 251.4L924.7 252.2L925.8 251.7L926.9 252.1L928.0 251.5L929.2 252.3L930.3 251.6L931.4 252.3L932.5 251.4L933.6 252.6L934.8 251.4L935.9 252.2L937.0 251.6L938.1 252.2L939.3 251.5L940.4 252.6L941.5 251.2L942.6 252.2L943.7 251.4L944.9 252.5L946.0 251.3L947.1 252.5L948.2 251.4L949.4 252.2" stroke="#ffff00" stroke-width="2.1" fill="none" stroke-linejoin="round"/><path d="M569.3 21.1L570.4 89.7L571.5 102.5L572.7 118.8L573.8 130.7L574.9 146.5L576.0 158.9L577.2 174.9L578.3 190.6L579.4 212.4L580.5 229.9L581.6 248.4L582.8 254.1L583.9 261.7L585.0 261.4L586.1 264.7L587.3 260.3L588.4 266.7L589.5 260.7L590.6 264.9L591.7 259.7L592.9 264.8L594.0 260.6L595.1 263.7L596.2 259.2L597.3 261.8L598.5 257.8L599.6 261.7L600.7 257.1L601.8 262.4L603.0 256.5L604.1 260.3L605.2 255.6L606.3 260.9L607.4 256.0L608.6 259.9L609.7 256.5L610.8 257.8L611.9 256.0L613.1 258.6L614.2 255.2L615.3 257.9L616.4 255.7L617.5 257.2L618.7 255.0L619.8 256.4L620.9 255.6L622.0 256.1L623.1 255.3L624.3 256.2L625.4 255.0L626.5 255.8L627.6 254.8L628.8 255.4L629.9 254.4L631.0 255.4L632.1 254.7L633.2 255.3L634.4 254.2L635.5 255.2L636.6 254.1L637.7 255.1L638.9 254.3L640.0 254.8L641.1 253.9L642.2 255.1L643.3 254.0L644.5 254.7L645.6 254.0L646.7 254.8L647.8 253.8L648.9 255.1L650.1 253.8L651.2 254.7L652.3 254.2L653.4 255.0L654.6 253.7L655.7 254.6L656.8 253.9L657.9 254.8L659.0 253.6L660.2 254.5L661.3 254.1L662.4 254.9L663.5 253.8L664.7 254.7L665.8 253.7L666.9 254.8L668.0 253.7L669.1 254.6L670.3 254.0L671.4 254.4L672.5 253.9L673.6 254.7L674.7 253.8L675.9 254.6L677.0 253.7L678.1 254.8L679.2 253.7L680.4 254.5L681.5 253.5L682.6 254.8L683.7 253.5L684.8 254.8L686.0 253.9L687.1 254.7L688.2 253.8L689.3 254.5L690.5 253.6L691.6 254.4L692.7 253.8L693.8 254.8L694.9 253.7L696.1 254.7L697.2 253.5L698.3 254.4L699.4 253.7L700.5 254.5L701.7 253.5L702.8 254.4L703.9 253.8L705.0 254.3L706.2 253.4L707.3 254.6L708.4 253.7L709.5 254.6L710.6 253.5L711.8 254.3L712.9 253.3L714.0 254.2L715.1 253.7L716.3 254.3L717.4 253.3L718.5 254.4L719.6 253.5L720.7 254.6L721.9 253.5L723.0 254.5L724.1 253.7L725.2 254.5L726.3 253.6L727.5 254.4L728.6 253.2L729.7 254.4L730.8 253.3L732.0 254.3L733.1 253.2L734.2 254.2L735.3 253.5L736.4 254.3L737.6 253.3L738.7 254.0L739.8 253.3L740.9 254.2L742.1 253.5L743.2 254.3L744.3 253.1L745.4 254.1L746.5 253.1L747.7 254.4L748.8 253.2L749.9 254.1L751.0 253.3L752.1 253.9L753.3 253.3L754.4 254.4L755.5 253.4L756.6 254.3L757.8 253.1L758.9 254.2L760.0 253.4L761.1 254.1L762.2 253.3L763.4 254.1L764.5 253.0L765.6 254.1L766.7 253.1L767.9 254.2L769.0 253.2L770.1 253.8L771.2 252.9L772.3 253.7L773.5 253.1L774.6 253.9L775.7 252.8L776.8 253.9L777.9 253.0L779.1 253.9L780.2 253.0L781.3 253.9L782.4 253.0L783.6 253.9L784.7 253.0L785.8 253.8L786.9 252.7L788.0 254.1L789.2 253.1L790.3 254.1L791.4 253.2L792.5 253.7L793.7 252.7L794.8 253.6L795.9 252.8L797.0 254.0L798.1 252.8L799.3 253.7L800.4 253.1L801.5 253.7L802.6 252.8L803.7 253.8L804.9 252.8L806.0 253.8L807.1 252.8L808.2 253.7L809.4 252.6L810.5 253.4L811.6 252.4L812.7 253.5L813.8 252.7L815.0 253.8L816.1 252.6L817.2 253.5L818.3 252.8L819.5 253.3L820.6 252.4L821.7 253.5L822.8 252.5L823.9 253.5L825.1 252.4L826.2 253.3L827.3 252.3L828.4 253.3L829.5 252.6L830.7 253.5L831.8 252.2L832.9 253.1L834.0 252.2L835.2 253.4L836.3 252.5L837.4 253.3L838.5 252.1L839.6 253.0L840.8 252.2L841.9 253.0L843.0 252.5L844.1 253.4L845.3 252.0L846.4 253.2L847.5 252.1L848.6 253.0L849.7 252.2L850.9 253.1L852.0 252.0L853.1 253.2L854.2 252.1L855.3 253.1L856.5 252.2L857.6 253.2L858.7 251.9L859.8 253.1L861.0 252.1L862.1 252.8L863.2 251.6L864.3 252.6L865.4 251.6L866.6 252.3L867.7 251.8L868.8 252.3L869.9 251.4L871.1 252.1L872.2 251.2L873.3 251.9L874.4 251.1L875.5 252.1L876.7 251.2L877.8 251.7L878.9 251.0L880.0 251.7L881.1 250.9L882.3 251.4L883.4 250.5L884.5 251.7L885.6 250.7L886.8 251.3L887.9 250.3L889.0 251.4L890.1 250.2L891.2 251.0L892.4 249.9L893.5 251.0L894.6 249.8L895.7 250.8L896.9 249.6L898.0 250.4L899.1 249.5L900.2 250.3L901.3 249.6L902.5 250.3L903.6 249.4L904.7 250.2L905.8 249.2L906.9 250.0L908.1 249.3L909.2 250.1L910.3 248.9L911.4 249.9L912.6 249.3L913.7 250.1L914.8 248.8L915.9 250.1L917.0 248.9L918.2 249.8L919.3 249.1L920.4 250.0L921.5 248.9L922.7 249.5L923.8 248.7L924.9 249.4L926.0 248.8L927.1 249.6L928.3 248.5L929.4 249.4L930.5 248.8L931.6 249.4L932.8 248.4L933.9 249.2L935.0 248.7L936.1 249.3L937.2 248.2L938.4 249.5L939.5 248.1L940.6 249.0L941.7 248.3L942.8 249.0L944.0 248.2L945.1 249.3L946.2 248.2L947.3 249.1L948.5 248.0L949.6 249.0" stroke="#00ff00" stroke-width="2.1" fill="none" stroke-linejoin="round"/><path d="M574.2 93.8L575.4 135.2L576.5 164.7L577.6 185.7L578.7 203.3L579.8 215.8L581.0 224.8L582.1 258.1L583.2 258.7L584.3 263.1L585.5 258.3L586.6 263.2L587.7 258.9L588.8 261.6L589.9 256.7L591.1 261.7L592.2 257.9L593.3 262.4L594.4 256.4L595.6 260.1L596.7 256.0L597.8 261.0L598.9 256.5L600.0 260.4L601.2 256.1L602.3 258.8L603.4 255.7L604.5 257.8L605.6 253.2L606.8 257.5L607.9 252.9L609.0 256.8L610.1 253.3L611.3 257.0L612.4 253.2L613.5 255.3L614.6 253.3L615.7 255.7L616.9 253.8L618.0 254.7L619.1 253.0L620.2 254.6L621.4 253.5L622.5 254.2L623.6 253.3L624.7 254.1L625.8 253.0L627.0 253.5L628.1 252.6L629.2 253.3L630.3 252.6L631.4 253.1L632.6 252.3L633.7 253.1L634.8 252.3L635.9 253.0L637.1 252.3L638.2 253.2L639.3 252.2L640.4 253.0L641.5 252.1L642.7 252.9L643.8 252.0L644.9 252.7L646.0 252.0L647.2 252.7L648.3 251.7L649.4 253.0L650.5 252.1L651.6 252.6L652.8 251.8L653.9 252.8L655.0 252.1L656.1 252.8L657.2 251.6L658.4 252.6L659.5 251.9L660.6 252.7L661.7 251.5L662.9 252.5L664.0 251.8L665.1 252.4L666.2 251.6L667.3 252.6L668.5 251.8L669.6 252.5L670.7 251.9L671.8 252.4L673.0 251.3L674.1 252.5L675.2 251.7L676.3 252.7L677.4 251.6L678.6 252.3L679.7 251.8L680.8 252.2L681.9 251.6L683.0 252.2L684.2 251.3L685.3 252.2L686.4 251.6L687.5 252.4L688.7 251.2L689.8 252.2L690.9 251.3L692.0 252.2L693.1 251.3L694.3 252.3L695.4 251.1L696.5 252.4L697.6 251.3L698.8 252.4L699.9 251.4L701.0 252.1L702.1 251.0L703.2 252.2L704.4 251.1L705.5 252.0L706.6 251.0L707.7 252.2L708.8 251.4L710.0 252.3L711.1 251.2L712.2 252.0L713.3 251.3L714.5 251.8L715.6 251.3L716.7 252.1L717.8 251.3L718.9 251.9L720.1 251.1L721.2 252.0L722.3 251.1L723.4 252.1L724.6 251.2L725.7 251.9L726.8 251.1L727.9 251.7L729.0 251.2L730.2 251.7L731.3 250.9L732.4 251.7L733.5 250.9L734.6 251.7L735.8 250.9L736.9 251.9L738.0 251.0L739.1 252.0L740.3 250.8L741.4 251.8L742.5 251.1L743.6 251.7L744.7 251.0L745.9 251.7L747.0 250.6L748.1 251.9L749.2 251.1L750.4 251.8L751.5 250.6L752.6 251.7L753.7 251.0L754.8 251.9L756.0 250.8L757.1 251.9L758.2 250.5L759.3 251.8L760.4 250.5L761.6 251.4L762.7 250.5L763.8 251.5L764.9 250.9L766.1 251.5L767.2 250.6L768.3 251.3L769.4 250.6L770.5 251.7L771.7 250.6L772.8 251.5L773.9 250.7L775.0 251.7L776.2 250.7L777.3 251.5L778.4 250.4L779.5 251.1L780.6 250.2L781.8 251.2L782.9 250.2L784.0 251.6L785.1 250.2L786.2 251.5L787.4 250.5L788.5 251.3L789.6 250.5L790.7 251.5L791.9 250.6L793.0 251.1L794.1 250.1L795.2 251.4L796.3 250.2L797.5 251.5L798.6 250.3L799.7 251.4L800.8 250.3L802.0 251.4L803.1 250.5L804.2 251.2L805.3 250.2L806.4 251.3L807.6 250.3L808.7 251.2L809.8 250.0L810.9 251.1L812.0 250.4L813.2 250.9L814.3 250.0L815.4 251.1L816.5 250.2L817.7 251.1L818.8 250.4L819.9 250.9L821.0 250.3L822.1 250.9L823.3 249.9L824.4 250.9L825.5 250.3L826.6 251.2L827.8 250.1L828.9 250.7L830.0 250.0L831.1 251.1L832.2 250.0L833.4 251.1L834.5 250.1L835.6 250.8L836.7 249.9L837.9 251.0L839.0 249.9L840.1 250.7L841.2 250.0L842.3 251.0L843.5 250.0L844.6 250.9L845.7 250.0L846.8 251.0L847.9 250.0L849.1 250.8L850.2 249.7L851.3 250.7L852.4 250.1L853.6 250.8L854.7 250.1L855.8 250.9L856.9 250.0L858.0 251.0L859.2 249.8L860.3 250.5L861.4 249.8L862.5 250.7L863.7 249.7L864.8 250.6L865.9 249.7L867.0 250.7L868.1 249.7L869.3 250.5L870.4 249.7L871.5 250.3L872.6 249.6L873.7 250.0L874.9 249.2L876.0 250.4L877.1 249.3L878.2 250.0L879.4 249.1L880.5 250.0L881.6 249.1L882.7 249.8L883.8 248.8L885.0 249.8L886.1 248.9L887.2 249.9L888.3 248.5L889.5 249.6L890.6 249.0L891.7 249.4L892.8 248.4L893.9 249.3L895.1 248.7L896.2 249.5L897.3 248.6L898.4 249.5L899.5 248.5L900.7 249.2L901.8 248.2L902.9 248.9L904.0 248.0L905.2 249.0L906.3 248.0L907.4 249.1L908.5 248.3L909.6 249.1L910.8 247.8L911.9 248.7L913.0 247.8L914.1 248.6L915.3 247.8L916.4 248.8L917.5 247.8L918.6 248.6L919.7 247.8L920.9 248.7L922.0 247.5L923.1 248.6L924.2 247.7L925.3 248.4L926.5 247.6L927.6 248.2L928.7 247.4L929.8 248.3L931.0 247.4L932.1 248.0L933.2 247.1L934.3 247.9L935.4 247.3L936.6 248.0L937.7 246.7L938.8 247.7L939.9 246.6L941.1 247.6L942.2 246.9L943.3 247.6L944.4 246.4L945.5 247.7L946.7 246.5L947.8 247.2L948.9 246.5L950.0 247.1" stroke="#00ffff" stroke-width="2.1" fill="none" stroke-linejoin="round"/><path d="M570.6 68.9L571.8 109.2L572.9 100.4L574.0 97.1L575.1 88.6L576.3 115.3L577.4 167.2L578.5 188.0L579.6 207.1L580.7 229.7L581.9 250.6L583.0 258.2L584.1 256.5L585.2 261.7L586.4 256.2L587.5 261.8L588.6 258.1L589.7 260.5L590.8 257.3L592.0 261.7L593.1 254.8L594.2 260.7L595.3 253.7L596.4 259.6L597.6 252.4L598.7 258.8L599.8 253.4L600.9 258.1L602.1 252.4L603.2 257.2L604.3 251.9L605.4 255.7L606.5 252.1L607.7 255.0L608.8 251.9L609.9 253.8L611.0 250.7L612.2 254.5L613.3 250.5L614.4 253.8L615.5 251.1L616.6 253.3L617.8 251.4L618.9 252.7L620.0 251.0L621.1 251.9L622.2 251.1L623.4 251.7L624.5 250.8L625.6 251.4L626.7 250.3L627.9 251.1L629.0 250.3L630.1 250.9L631.2 250.1L632.3 250.6L633.5 250.0L634.6 250.6L635.7 249.9L636.8 250.6L638.0 249.4L639.1 250.4L640.2 249.4L641.3 250.6L642.4 249.6L643.6 250.0L644.7 249.1L645.8 250.3L646.9 249.2L648.0 249.9L649.2 249.3L650.3 250.3L651.4 249.0L652.5 250.2L653.7 249.3L654.8 250.2L655.9 249.2L657.0 250.1L658.1 249.3L659.3 250.3L660.4 249.0L661.5 250.1L662.6 249.2L663.8 250.0L664.9 249.0L666.0 250.0L667.1 249.1L668.2 250.0L669.4 249.1L670.5 249.8L671.6 249.1L672.7 250.0L673.9 249.2L675.0 249.7L676.1 249.2L677.2 249.9L678.3 248.9L679.5 249.8L680.6 249.1L681.7 249.7L682.8 248.9L683.9 249.5L685.1 249.1L686.2 250.0L687.3 249.0L688.4 249.6L689.6 248.9L690.7 249.7L691.8 249.0L692.9 249.7L694.0 248.8L695.2 249.8L696.3 249.0L697.4 249.6L698.5 248.7L699.7 249.9L700.8 248.7L701.9 249.6L703.0 248.6L704.1 249.5L705.3 248.9L706.4 249.6L707.5 248.5L708.6 249.7L709.7 248.8L710.9 249.6L712.0 248.5L713.1 249.4L714.2 248.6L715.4 249.4L716.5 248.8L717.6 249.4L718.7 248.8L719.8 249.4L721.0 248.8L722.1 249.4L723.2 248.8L724.3 249.6L725.5 248.5L726.6 249.2L727.7 248.4L728.8 249.3L729.9 248.5L731.1 249.4L732.2 248.6L733.3 249.3L734.4 248.5L735.5 249.2L736.7 248.3L737.8 249.1L738.9 248.3L740.0 249.2L741.2 248.5L742.3 249.3L743.4 248.7L744.5 249.1L745.6 248.5L746.8 249.3L747.9 248.2L749.0 249.5L750.1 248.6L751.3 249.3L752.4 248.6L753.5 249.4L754.6 248.4L755.7 249.4L756.9 248.3L758.0 249.0L759.1 248.6L760.2 249.1L761.3 248.1L762.5 249.0L763.6 248.3L764.7 249.1L765.8 248.3L767.0 249.3L768.1 248.4L769.2 249.3L770.3 248.1L771.4 249.4L772.6 248.2L773.7 249.3L774.8 248.2L775.9 249.1L777.1 248.1L778.2 249.3L779.3 248.0L780.4 248.8L781.5 248.3L782.7 249.1L783.8 248.0L784.9 249.0L786.0 248.2L787.1 249.3L788.3 248.2L789.4 248.8L790.5 248.3L791.6 248.7L792.8 247.9L793.9 248.7L795.0 247.9L796.1 249.1L797.2 247.8L798.4 249.1L799.5 248.1L800.6 249.0L801.7 247.8L802.9 249.0L804.0 248.1L805.1 249.0L806.2 248.2L807.3 248.8L808.5 247.7L809.6 248.9L810.7 248.1L811.8 249.0L812.9 248.0L814.1 248.6L815.2 248.2L816.3 248.7L817.4 248.0L818.6 249.0L819.7 248.0L820.8 249.0L821.9 247.7L823.0 248.7L824.2 247.6L825.3 248.9L826.4 247.9L827.5 248.6L828.7 247.9L829.8 249.0L830.9 247.8L832.0 248.6L833.1 247.9L834.3 248.7L835.4 248.0L836.5 248.7L837.6 248.1L838.7 248.9L839.9 248.0L841.0 248.5L842.1 247.7L843.2 248.6L844.4 247.6L845.5 248.7L846.6 247.7L847.7 248.8L848.8 247.9L850.0 248.8L851.1 247.6L852.2 248.6L853.3 247.5L854.5 248.3L855.6 247.5L856.7 248.4L857.8 247.5L858.9 248.4L860.1 247.9L861.2 248.6L862.3 247.4L863.4 248.4L864.5 247.6L865.7 248.6L866.8 247.7L867.9 248.5L869.0 247.8L870.2 248.4L871.3 247.4L872.4 248.4L873.5 247.7L874.6 248.2L875.8 247.4L876.9 248.4L878.0 247.3L879.1 248.5L880.3 247.7L881.4 248.6L882.5 247.2L883.6 248.5L884.7 247.2L885.9 248.4L887.0 247.3L888.1 248.4L889.2 247.3L890.3 248.1L891.5 247.5L892.6 248.3L893.7 247.3L894.8 248.0L896.0 247.2L897.1 248.2L898.2 247.3L899.3 248.3L900.4 247.0L901.6 248.1L902.7 247.1L903.8 248.1L904.9 247.2L906.1 248.0L907.2 246.9L908.3 247.9L909.4 246.8L910.5 247.8L911.7 246.9L912.8 248.0L913.9 246.8L915.0 247.7L916.1 247.0L917.3 247.6L918.4 246.7L919.5 247.7L920.6 246.5L921.8 247.7L922.9 246.6L924.0 247.3L925.1 246.4L926.2 247.4L927.4 246.6L928.5 247.1L929.6 246.5L930.7 247.0L931.9 246.3L933.0 247.3L934.1 246.3L935.2 247.2L936.3 246.1L937.5 246.7L938.6 245.7L939.7 246.6L940.8 246.1L941.9 246.5L943.1 246.0L944.2 246.6L945.3 245.9L946.4 246.4L947.6 245.9L948.7 246.6L949.8 245.8" stroke="#0000ff" stroke-width="2.1" fill="none" stroke-linejoin="round"/><path d="M572.4 87.7L573.6 129.0L574.7 148.7L575.8 160.2L576.9 166.4L578.1 189.0L579.2 189.7L580.3 227.6L581.4 228.8L582.5 251.6L583.7 242.3L584.8 258.4L585.9 255.1L587.0 258.8L588.1 255.3L589.3 260.3L590.4 255.8L591.5 260.2L592.6 255.2L593.8 258.0L594.9 251.9L596.0 255.6L597.1 249.7L598.2 253.9L599.4 251.4L600.5 256.0L601.6 249.7L602.7 253.0L603.9 248.3L605.0 254.6L606.1 250.2L607.2 252.7L608.3 249.8L609.5 251.8L610.6 248.6L611.7 251.1L612.8 248.5L613.9 250.6L615.1 249.2L616.2 251.2L617.3 248.9L618.4 250.3L619.6 248.7L620.7 250.0L621.8 248.8L622.9 249.3L624.0 248.5L625.2 249.6L626.3 248.1L627.4 249.2L628.5 248.2L629.7 248.8L630.8 247.8L631.9 248.9L633.0 248.0L634.1 248.5L635.3 247.8L636.4 248.6L637.5 247.5L638.6 248.5L639.7 247.8L640.9 248.5L642.0 247.5L643.1 248.3L644.2 247.5L645.4 248.1L646.5 247.3L647.6 248.3L648.7 247.5L649.8 248.2L651.0 247.4L652.1 248.2L653.2 247.5L654.3 248.0L655.5 247.3L656.6 248.2L657.7 247.4L658.8 248.1L659.9 247.3L661.1 247.9L662.2 247.2L663.3 248.3L664.4 247.2L665.5 248.3L666.7 247.3L667.8 248.2L668.9 247.2L670.0 247.8L671.2 247.0L672.3 248.2L673.4 247.3L674.5 247.8L675.6 246.9L676.8 247.9L677.9 247.2L679.0 247.7L680.1 247.3L681.3 248.0L682.4 246.8L683.5 248.2L684.6 247.0L685.7 247.6L686.9 247.1L688.0 248.0L689.1 246.8L690.2 247.9L691.3 247.1L692.5 247.8L693.6 246.9L694.7 247.9L695.8 247.0L697.0 248.0L698.1 246.6L699.2 247.6L700.3 246.9L701.4 247.9L702.6 246.9L703.7 247.9L704.8 246.8L705.9 247.8L707.1 246.6L708.2 247.5L709.3 246.8L710.4 247.5L711.5 246.6L712.7 247.7L713.8 246.9L714.9 247.8L716.0 246.7L717.1 247.4L718.3 246.7L719.4 247.8L720.5 246.6L721.6 247.6L722.8 246.4L723.9 247.7L725.0 246.4L726.1 247.4L727.2 246.5L728.4 247.6L729.5 246.4L730.6 247.4L731.7 246.6L732.9 247.3L734.0 246.3L735.1 247.4L736.2 246.7L737.3 247.4L738.5 246.2L739.6 247.5L740.7 246.2L741.8 247.5L742.9 246.4L744.1 247.4L745.2 246.4L746.3 247.0L747.4 246.4L748.6 247.1L749.7 246.1L750.8 247.3L751.9 246.3L753.0 247.2L754.2 246.5L755.3 247.2L756.4 246.1L757.5 247.1L758.7 246.3L759.8 247.0L760.9 246.3L762.0 247.2L763.1 246.3L764.3 246.8L765.4 246.2L766.5 247.1L767.6 246.0L768.8 247.1L769.9 245.9L771.0 246.9L772.1 246.3L773.2 246.9L774.4 246.1L775.5 246.7L776.6 245.9L777.7 246.8L778.8 246.1L780.0 246.8L781.1 245.7L782.2 246.6L783.3 246.0L784.5 246.7L785.6 246.1L786.7 246.8L787.8 246.0L788.9 247.0L790.1 245.9L791.2 246.9L792.3 246.0L793.4 246.7L794.6 245.8L795.7 246.9L796.8 246.0L797.9 246.7L799.0 245.6L800.2 246.9L801.3 246.0L802.4 246.7L803.5 245.7L804.6 246.7L805.8 245.7L806.9 246.8L808.0 245.5L809.1 246.7L810.3 245.7L811.4 246.6L812.5 245.7L813.6 246.6L814.7 245.8L815.9 246.6L817.0 245.9L818.1 246.5L819.2 245.9L820.4 246.7L821.5 245.9L822.6 246.4L823.7 245.6L824.8 246.5L826.0 245.5L827.1 246.7L828.2 245.8L829.3 246.9L830.4 245.5L831.6 246.5L832.7 245.9L833.8 246.7L834.9 245.6L836.1 246.7L837.2 245.6L838.3 246.6L839.4 245.7L840.5 246.5L841.7 245.8L842.8 246.6L843.9 245.8L845.0 246.6L846.2 245.5L847.3 246.4L848.4 245.9L849.5 246.5L850.6 245.4L851.8 246.6L852.9 245.9L854.0 246.8L855.1 245.5L856.2 246.8L857.4 245.8L858.5 246.7L859.6 245.8L860.7 246.4L861.9 245.5L863.0 246.7L864.1 245.8L865.2 246.8L866.3 245.9L867.5 246.4L868.6 245.9L869.7 246.4L870.8 245.8L872.0 246.7L873.1 245.7L874.2 246.4L875.3 245.8L876.4 246.4L877.6 245.4L878.7 246.6L879.8 245.8L880.9 246.6L882.0 245.6L883.2 246.5L884.3 245.6L885.4 246.6L886.5 245.4L887.7 246.5L888.8 245.5L889.9 246.5L891.0 245.5L892.1 246.4L893.3 245.6L894.4 246.5L895.5 245.4L896.6 246.3L897.8 245.3L898.9 246.4L900.0 245.3L901.1 246.5L902.2 245.3L903.4 246.5L904.5 245.6L905.6 246.4L906.7 245.4L907.8 246.5L909.0 245.3L910.1 246.1L911.2 245.6L912.3 246.0L913.5 245.6L914.6 246.0L915.7 245.5L916.8 246.0L917.9 245.4L919.1 246.2L920.2 245.1L921.3 246.3L922.4 244.9L923.6 246.1L924.7 244.8L925.8 245.7L926.9 245.2L928.0 246.1L929.2 245.0L930.3 245.7L931.4 244.8L932.5 245.7L933.6 244.8L934.8 245.6L935.9 245.0L937.0 245.5L938.1 244.7L939.3 245.9L940.4 244.4L941.5 245.7L942.6 244.4L943.7 245.5L944.9 244.7L946.0 245.7L947.1 244.5L948.2 245.5L949.4 244.8" stroke="#ff00ff" stroke-width="2.1" fill="none" stroke-linejoin="round"/><path d="M581.2 176.4L581.6 172.2L582.1 187.0L582.5 182.8L583.0 197.7L583.4 193.4L583.9 208.3L584.3 211.9L584.8 234.6L585.2 230.9L585.7 246.3" stroke="#ff00ff" stroke-width="1.8" fill="none" stroke-linejoin="round"/><path d="M579.2 176.4L579.6 172.2L580.1 187.0L580.5 182.8L581.0 197.7L581.4 193.4L581.9 208.3L582.3 211.9L582.8 234.6L583.2 230.9L583.7 246.3" stroke="#ff00ff" stroke-width="1.8" fill="none" stroke-linejoin="round"/><path d="M581.0 198.1L582.1 215.6L583.2 230.8L584.3 251.6L585.5 252.6L586.6 257.5L587.7 253.2L588.8 256.9L589.9 245.0L591.1 257.9L592.2 248.1L593.3 256.7L594.4 253.8L595.6 258.1L596.7 251.2L597.8 254.7L598.9 249.1L600.0 256.2L601.2 249.0L602.3 253.8L603.4 249.3L604.5 250.8L605.6 247.5L606.8 250.3L607.9 248.0L609.0 250.1L610.1 248.0L611.3 249.9L612.4 246.9L613.5 249.8L614.6 246.6L615.7 248.9L616.9 246.6L618.0 248.5L619.1 246.6L620.2 247.7L621.4 246.2L622.5 247.7L623.6 246.3L624.7 247.3L625.8 246.3L627.0 246.9L628.1 246.1L629.2 246.6L630.3 245.7L631.4 246.6L632.6 245.6L633.7 246.5L634.8 245.4L635.9 246.7L637.1 245.8L638.2 246.3L639.3 245.3L640.4 246.3L641.5 245.1L642.7 246.2L643.8 245.6L644.9 246.2L646.0 245.1L647.2 246.0L648.3 245.5L649.4 246.1L650.5 245.0L651.6 246.3L652.8 245.5L653.9 246.0L655.0 245.5L656.1 245.9L657.2 245.1L658.4 245.9L659.5 245.2L660.6 246.1L661.7 245.4L662.9 246.2L664.0 245.4L665.1 246.2L666.2 245.4L667.3 246.0L668.5 245.3L669.6 245.9L670.7 244.9L671.8 246.2L673.0 245.3L674.1 246.3L675.2 245.3L676.3 246.0L677.4 244.9L678.6 246.1L679.7 245.3L680.8 246.3L681.9 245.3L683.0 245.9L684.2 244.9L685.3 245.9L686.4 245.2L687.5 245.7L688.7 245.3L689.8 246.0L690.9 245.2L692.0 246.0L693.1 245.1L694.3 245.9L695.4 244.7L696.5 245.9L697.6 244.9L698.8 246.0L699.9 245.1L701.0 245.6L702.1 244.7L703.2 246.0L704.4 245.0L705.5 245.6L706.6 244.7L707.7 246.0L708.8 245.0L710.0 246.0L711.1 244.6L712.2 245.8L713.3 244.8L714.5 245.5L715.6 245.0L716.7 245.9L717.8 244.9L718.9 245.7L720.1 244.9L721.2 245.8L722.3 244.7L723.4 245.5L724.6 244.9L725.7 245.7L726.8 244.9L727.9 245.4L729.0 244.6L730.2 245.7L731.3 244.6L732.4 245.4L733.5 244.4L734.6 245.3L735.8 244.8L736.9 245.3L738.0 244.6L739.1 245.2L740.3 244.7L741.4 245.3L742.5 244.5L743.6 245.2L744.7 244.6L745.9 245.6L747.0 244.2L748.1 245.4L749.2 244.3L750.4 245.4L751.5 244.6L752.6 245.1L753.7 244.7L754.8 245.5L756.0 244.3L757.1 245.5L758.2 244.6L759.3 245.3L760.4 244.3L761.6 245.3L762.7 244.4L763.8 245.5L764.9 244.5L766.1 245.2L767.2 244.1L768.3 245.4L769.4 244.1L770.5 245.2L771.7 244.1L772.8 245.3L773.9 244.3L775.0 245.2L776.2 244.0L777.3 245.3L778.4 244.2L779.5 245.2L780.6 243.9L781.8 245.1L782.9 244.0L784.0 244.9L785.1 244.0L786.2 245.0L787.4 244.3L788.5 245.0L789.6 243.8L790.7 245.1L791.9 243.9L793.0 244.8L794.1 243.9L795.2 244.9L796.3 244.0L797.5 245.1L798.6 244.2L799.7 245.0L800.8 244.2L802.0 244.9L803.1 244.0L804.2 244.7L805.3 243.9L806.4 244.9L807.6 243.9L808.7 245.1L809.8 244.1L810.9 244.6L812.0 244.1L813.2 245.0L814.3 244.1L815.4 244.7L816.5 243.7L817.7 244.9L818.8 244.0L819.9 245.1L821.0 244.0L822.1 244.9L823.3 244.1L824.4 244.8L825.5 243.8L826.6 245.0L827.8 243.7L828.9 244.8L830.0 243.9L831.1 244.7L832.2 244.1L833.4 244.8L834.5 243.7L835.6 245.0L836.7 243.8L837.9 245.0L839.0 244.0L840.1 244.6L841.2 243.9L842.3 244.7L843.5 244.0L844.6 244.7L845.7 243.8L846.8 244.8L847.9 244.0L849.1 245.0L850.2 243.6L851.3 244.7L852.4 244.1L853.6 244.5L854.7 243.7L855.8 244.5L856.9 243.7L858.0 244.8L859.2 244.0L860.3 244.9L861.4 244.1L862.5 244.5L863.7 243.9L864.8 244.5L865.9 243.7L867.0 244.6L868.1 244.0L869.3 244.5L870.4 243.8L871.5 244.7L872.6 243.8L873.7 244.8L874.9 243.7L876.0 245.0L877.1 243.7L878.2 244.6L879.4 243.9L880.5 244.6L881.6 244.1L882.7 244.7L883.8 243.7L885.0 244.6L886.1 244.0L887.2 244.7L888.3 243.7L889.5 244.8L890.6 243.8L891.7 244.9L892.8 243.9L893.9 244.9L895.1 243.6L896.2 244.5L897.3 243.6L898.4 244.9L899.5 244.0L900.7 244.7L901.8 243.8L902.9 245.0L904.0 243.9L905.2 244.8L906.3 243.6L907.4 244.9L908.5 243.6L909.6 244.7L910.8 243.7L911.9 244.5L913.0 243.7L914.1 244.9L915.3 243.7L916.4 244.8L917.5 243.9L918.6 244.9L919.7 243.5L920.9 244.9L922.0 243.7L923.1 244.8L924.2 243.8L925.3 244.8L926.5 243.5L927.6 244.5L928.7 243.9L929.8 244.5L931.0 243.6L932.1 244.7L933.2 243.7L934.3 244.3L935.4 243.5L936.6 244.3L937.7 243.5L938.8 244.3L939.9 243.7L941.1 244.6L942.2 243.8L943.3 244.3L944.4 243.6L945.5 244.6L946.7 243.4L947.8 244.5L948.9 243.3L950.0 244.4" stroke="#ff0000" stroke-width="2.1" fill="none" stroke-linejoin="round"/><path d="M568.5 30.0 L568.8 31.0 L568.5 32.0 L568.9 33.0 L569.5 34.0 L569.5 35.0 L569.3 36.0 L569.7 37.0 L569.3 38.0 L569.9 39.0 L569.6 40.0 L569.1 41.0 L569.7 42.0 L569.6 43.0 L569.7 44.0 L569.4 45.0 L570.0 46.0 L569.5 47.0 L569.7 48.0 L569.6 49.0 L569.7 50.0 L569.7 51.0 L570.4 52.0 L570.3 53.0 L569.6 54.0 L570.3 55.0 L569.8 56.0 L570.5 57.0 L570.3 58.0 L570.5 59.0 L570.8 60.0 L570.9 61.0 L570.8 62.0 L570.4 63.0 L570.2 64.0 L570.8 65.0 L570.8 66.0 L571.2 67.0 L571.2 68.0 L570.4 69.0 L570.7 70.0 L571.1 71.0 L570.8 72.0 L571.5 73.0 L570.4 74.0 L570.9 75.0 L571.5 76.0 L571.6 77.0 L571.1 78.0 L570.9 79.0 L571.3 80.0 L571.0 81.0 L571.5 82.0 L571.1 83.0 L571.0 84.0 L571.5 85.0 L571.7 86.0 L571.4 87.0 L571.6 88.0 L571.6 89.0 L571.6 90.0 L571.0 91.0 L571.5 92.0 L572.1 93.0 L571.7 94.0 L572.1 95.0 L572.3 96.0 L571.2 97.0 L572.1 98.0 L571.9 99.0 L571.3 100.0 L571.6 101.0 L572.0 102.0 L572.1 103.0 L572.6 104.0 L572.1 105.0 L572.6 106.0 L572.3 107.0 L573.0 108.0 L573.1 109.0 L572.2 110.0 L573.0 111.0 L572.2 112.0 L572.6 113.0 L573.3 114.0 L572.8 115.0 L572.4 116.0 L572.4 117.0 L573.7 118.0 L573.6 119.0 L573.8 120.0 L573.1 121.0 L573.1 122.0 L573.7 123.0 L573.0 124.0 L573.7 125.0 L573.3 126.0 L573.5 127.0 L574.3 128.0 L573.8 129.0 L574.8 130.0 L574.5 131.0 L574.5 132.0 L574.7 133.0 L574.3 134.0 L575.3 135.0 L574.3 136.0 L575.5 137.0 L575.2 138.0 L575.4 139.0 L575.4 140.0 L575.3 141.0 L575.2 142.0 L575.5 143.0 L576.0 144.0 L575.7 145.0 L576.4 146.0 L576.4 147.0 L575.7 148.0 L575.9 149.0 L576.9 150.0 L576.6 151.0 L576.2 152.0 L576.7 153.0 L576.8 154.0 L577.1 155.0 L576.9 156.0 L577.5 157.0 L576.5 158.0 L577.6 159.0 L577.4 160.0 L577.1 161.0 L576.8 162.0 L576.9 163.0 L577.7 164.0 L577.7 165.0 L577.6 166.0 L577.0 167.0 L577.1 168.0 L577.6 169.0 L577.1 170.0 L577.4 171.0 L577.1 172.0 L577.3 173.0 L577.7 174.0 L578.1 175.0 L577.1 176.0 L577.5 177.0 L577.6 178.0 L577.4 179.0 L577.7 180.0 L577.2 181.0 L577.5 182.0 L577.6 183.0 L578.3 184.0 L577.7 185.0 L578.1 186.0 L578.3 187.0 L578.2 188.0 L577.9 189.0 L577.8 190.0 L578.1 191.0 L577.9 192.0 L577.8 193.0 L577.9 194.0 L577.6 195.0 L578.2 196.0 L578.0 197.0 L577.6 198.0 L578.0 199.0 L577.7 200.0 L578.2 201.0 L578.3 202.0 L578.8 203.0 L577.8 204.0 L578.4 205.0 L578.6 206.0 L578.0 207.0 L578.3 208.0 L578.4 209.0 L577.9 210.0 L578.3 211.0 L578.9 212.0 L578.9 213.0 L578.9 214.0 L577.9 215.0 L578.7 216.0 L578.8 217.0 L578.3 218.0 L578.2 219.0 L578.7 220.0 L578.4 221.0 L579.1 222.0 L578.4 223.0 L579.0 224.0 L578.9 225.0 L578.5 226.0 L578.9 227.0 L579.1 228.0 L578.9 229.0 L578.4 230.0 L578.3 231.0 L578.9 232.0 L579.1 233.0 L579.0 234.0 L578.6 235.0 L579.1 236.0 L579.2 237.0 L578.9 238.0 L579.3 239.0 L579.3 240.0 L579.7 241.0 L578.6 242.0 L579.8 243.0 L579.5 244.0 L578.9 245.0 L578.9 246.0 L579.2 247.0 L579.6 248.0 L579.6 249.0 L579.4 250.0 L580.1 251.0 L579.8 252.0 L580.0 253.0 L580.2 254.0 L580.5 255.0 L579.8 256.0 L579.9 257.0 L580.5 258.0 L581.5 259.0 L582.2 260.0 L582.4 261.0 L583.0 262.0 L584.8 267.9 L585.8 267.4 L586.8 266.6 L587.8 265.8 L588.8 266.7 L589.9 267.2 L590.9 265.7 L591.9 266.4 L592.9 264.3 L593.9 265.2 L594.9 264.2 L595.9 264.7 L597.0 264.7 L598.0 265.1 L599.0 264.0 L600.0 264.6 L601.0 263.1 L602.0 262.5 L603.0 263.1 L604.0 263.5 L605.0 263.3 L606.0 261.5 L607.0 261.8 L608.0 261.6 L609.0 261.9 L610.0 262.7 L611.0 261.2 L612.1 260.6 L613.1 262.7 L614.2 262.5 L615.2 262.3 L616.3 260.5 L617.3 261.0 L618.4 260.7 L619.4 262.4 L620.5 260.5 L621.5 260.5 L622.6 260.6 L623.6 262.0 L624.7 260.5 L625.7 262.4 L626.8 260.7 L627.8 261.5 L628.9 260.3 L629.9 260.5 L631.0 261.9 L632.1 262.2 L633.1 260.3 L634.2 260.6 L635.3 259.8 L636.3 260.2 L637.4 260.6 L638.5 260.9 L639.6 261.0 L640.6 260.4 L641.7 260.0 L642.8 260.9 L643.8 260.4 L644.9 260.3 L645.9 261.8 L646.9 260.9 L647.9 259.5 L648.9 261.8 L649.9 261.8 L650.9 260.4 L651.9 261.8 L652.9 259.7 L653.9 261.7 L654.9 259.9 L655.9 261.5 L657.0 261.1 L658.0 261.8 L659.0 260.2 L660.0 261.0 L661.0 261.7 L662.0 259.8 L663.0 259.9 L664.0 260.8 L665.0 259.8 L666.0 259.6 L667.0 259.5 L668.0 260.3 L669.0 261.0 L670.0 260.5 L671.0 260.9 L672.0 259.5 L673.0 259.7 L674.0 260.8 L675.0 259.8 L676.0 259.4 L677.0 259.6 L678.0 261.0 L679.0 261.7 L680.0 260.6 L681.0 259.4 L682.0 259.9 L683.0 261.0 L684.1 261.3 L685.1 259.9 L686.1 260.5 L687.1 259.5 L688.1 260.7 L689.1 261.2 L690.1 260.6 L691.1 261.2 L692.1 259.9 L693.1 261.0 L694.1 260.5 L695.1 260.8 L696.1 259.5 L697.1 260.4 L698.1 260.8 L699.1 259.9 L700.1 260.7 L701.1 259.4 L702.1 260.3 L703.1 261.6 L704.1 260.9 L705.1 260.5 L706.1 261.4 L707.1 261.0 L708.1 260.5 L709.1 260.2 L710.1 261.4 L711.2 260.7 L712.2 260.5 L713.2 260.2 L714.2 259.7 L715.2 259.7 L716.2 260.7 L717.2 260.6 L718.2 261.1 L719.2 260.4 L720.2 260.2 L721.2 260.6 L722.2 259.9 L723.2 261.5 L724.2 260.7 L725.2 259.9 L726.2 260.4 L727.3 261.2 L728.3 261.4 L729.3 260.8 L730.3 261.2 L731.3 261.0 L732.3 260.0 L733.3 260.1 L734.3 260.2 L735.3 259.2 L736.4 260.4 L737.4 260.3 L738.4 260.9 L739.4 259.8 L740.4 261.3 L741.4 260.7 L742.4 260.3 L743.4 259.4 L744.4 261.1 L745.5 260.5 L746.5 260.4 L747.5 259.3 L748.5 259.3 L749.5 259.3 L750.5 261.0 L751.5 259.8 L752.5 260.4 L753.5 260.4 L754.6 260.7 L755.6 259.4 L756.6 259.2 L757.6 261.0 L758.6 259.0 L759.6 261.0 L760.6 259.6 L761.6 258.6 L762.6 259.3 L763.7 260.4 L764.7 259.5 L765.7 258.9 L766.7 258.7 L767.7 258.6 L768.7 259.8 L769.7 259.3 L770.7 260.1 L771.7 258.7 L772.8 259.1 L773.8 259.7 L774.8 259.2 L775.8 260.0 L776.8 259.0 L777.8 260.1 L778.8 259.9 L779.8 259.3 L780.8 260.0 L781.9 259.1 L782.9 260.4 L783.9 260.0 L784.9 258.9 L785.9 260.2 L786.9 259.7 L787.9 260.2 L788.9 259.8 L789.9 260.3 L791.0 259.4 L792.0 258.9 L793.0 259.8 L794.0 260.3 L795.0 259.2 L796.0 259.7 L797.1 259.3 L798.1 258.6 L799.1 258.3 L800.1 259.3 L801.1 258.1 L802.2 258.7 L803.2 259.5 L804.2 258.5 L805.2 258.6 L806.2 259.8 L807.3 258.9 L808.3 258.7 L809.3 257.8 L810.3 259.1 L811.3 258.1 L812.4 258.9 L813.4 259.5 L814.4 259.1 L815.4 257.6 L816.4 259.3 L817.5 258.6 L818.5 257.4 L819.5 257.0 L820.5 257.4 L821.5 258.2 L822.6 257.9 L823.6 256.7 L824.6 258.9 L825.6 256.8 L826.6 258.6 L827.7 257.7 L828.7 258.4 L829.7 258.4 L830.7 258.1 L831.7 257.3 L832.8 257.6 L833.8 256.8 L834.8 256.8 L835.8 256.2 L836.8 257.0 L837.9 258.2 L838.9 257.7 L839.9 256.1 L840.9 256.7 L841.9 256.9 L842.9 257.0 L844.0 256.9 L845.0 257.7 L846.0 256.1 L847.0 257.1 L848.0 257.0 L849.1 255.4 L850.1 255.7 L851.1 255.6 L852.1 256.7 L853.1 257.2 L854.2 257.2 L855.2 257.0 L856.2 256.3 L857.2 256.4 L858.2 256.4 L859.3 255.5 L860.3 255.9 L861.3 255.0 L862.3 255.5 L863.3 255.5 L864.4 256.9 L865.4 255.1 L866.4 255.7 L867.4 254.7 L868.4 254.6 L869.5 255.7 L870.5 255.9 L871.5 255.7 L872.5 256.8 L873.5 255.5 L874.6 255.8 L875.6 256.4 L876.6 254.6 L877.6 256.1 L878.6 254.5 L879.7 256.3 L880.7 256.0 L881.7 256.0 L882.7 256.2 L883.7 254.2 L884.8 254.3 L885.8 255.1 L886.8 254.2 L887.8 256.2 L888.8 254.4 L889.9 254.6 L890.9 255.7 L891.9 254.3 L892.9 256.0 L893.9 254.8 L895.0 255.2 L896.0 256.0 L897.0 254.1 L898.0 254.5 L899.0 254.8 L900.1 255.6 L901.1 254.6 L902.1 254.9 L903.1 254.4 L904.1 255.3 L905.2 254.9 L906.2 255.4 L907.2 253.8 L908.2 255.0 L909.3 255.9 L910.3 254.2 L911.3 254.1 L912.3 255.3 L913.4 253.8 L914.4 254.6 L915.4 254.3 L916.4 253.7 L917.5 254.0 L918.5 255.1 L919.5 254.6 L920.5 253.7 L921.6 254.4 L922.6 255.3 L923.6 253.3 L924.6 254.6 L925.7 253.1 L926.7 253.4 L927.7 253.0 L928.7 254.0 L929.8 254.2 L930.8 254.3 L931.8 253.9 L932.8 253.9 L933.9 252.8 L934.9 253.0 L935.9 252.6 L936.9 254.6 L938.0 252.4 L939.0 254.2 L940.0 253.0 L941.1 254.1 L942.2 253.0 L943.3 254.2 L944.4 253.7 L945.5 253.7 L946.7 251.9 L947.8 253.4 L948.9 251.8 L950.0 252.9 L950.0 253.6 L948.9 255.7 L947.8 255.0 L946.7 253.9 L945.5 255.5 L944.4 255.0 L943.3 255.6 L942.2 255.0 L941.1 255.4 L940.0 255.6 L939.0 254.5 L938.0 253.9 L936.9 256.2 L935.9 254.1 L934.9 255.4 L933.9 256.7 L932.8 255.0 L931.8 254.9 L930.8 255.3 L929.8 254.9 L928.7 256.5 L927.7 255.3 L926.7 254.8 L925.7 256.4 L924.6 255.5 L923.6 255.4 L922.6 255.0 L921.6 257.4 L920.5 256.2 L919.5 256.9 L918.5 256.7 L917.5 257.9 L916.4 255.7 L915.4 257.4 L914.4 258.0 L913.4 256.6 L912.3 257.1 L911.3 256.9 L910.3 257.0 L909.3 258.8 L908.2 256.9 L907.2 258.4 L906.2 256.6 L905.2 258.7 L904.1 256.8 L903.1 258.9 L902.1 256.9 L901.1 257.4 L900.1 257.6 L899.0 257.7 L898.0 259.1 L897.0 258.4 L896.0 257.2 L895.0 257.6 L893.9 258.4 L892.9 259.2 L891.9 259.1 L890.9 258.7 L889.9 259.7 L888.8 260.2 L887.8 260.2 L886.8 260.4 L885.8 260.3 L884.8 260.5 L883.7 259.8 L882.7 259.8 L881.7 259.6 L880.7 259.2 L879.7 260.5 L878.6 259.4 L877.6 261.0 L876.6 259.8 L875.6 258.7 L874.6 261.1 L873.5 260.2 L872.5 259.0 L871.5 261.4 L870.5 261.4 L869.5 261.7 L868.4 260.7 L867.4 260.0 L866.4 260.2 L865.4 261.2 L864.4 261.7 L863.3 261.5 L862.3 260.7 L861.3 260.6 L860.3 263.0 L859.3 263.1 L858.3 263.0 L857.3 261.8 L856.2 260.6 L855.2 261.1 L854.2 262.0 L853.2 263.0 L852.2 262.5 L851.2 260.9 L850.2 263.2 L849.2 262.5 L848.2 261.9 L847.2 262.9 L846.2 261.9 L845.1 262.3 L844.1 260.9 L843.1 261.1 L842.1 263.5 L841.1 262.2 L840.1 263.2 L839.1 262.1 L838.1 262.2 L837.1 261.4 L836.1 263.7 L835.0 261.9 L834.0 263.4 L833.0 261.8 L832.0 262.2 L831.0 261.6 L830.0 263.3 L829.0 264.0 L828.0 263.2 L827.0 263.3 L826.0 262.2 L824.9 264.3 L823.9 261.9 L822.9 262.4 L821.9 263.3 L820.9 263.5 L819.9 262.6 L818.9 263.5 L817.8 262.2 L816.8 262.1 L815.8 263.2 L814.7 263.7 L813.7 264.7 L812.7 263.6 L811.6 265.0 L810.6 264.6 L809.5 265.2 L808.5 264.5 L807.5 263.8 L806.4 264.5 L805.4 264.7 L804.4 263.5 L803.3 263.4 L802.3 263.9 L801.3 264.6 L800.2 263.3 L799.2 264.2 L798.2 263.7 L797.1 265.9 L796.1 264.7 L795.1 265.1 L794.0 263.9 L793.0 264.9 L791.9 266.3 L790.9 266.0 L789.9 266.2 L788.8 264.1 L787.8 266.0 L786.8 265.9 L785.7 264.7 L784.7 264.6 L783.7 266.2 L782.6 264.5 L781.6 264.4 L780.6 265.5 L779.5 265.1 L778.5 265.0 L777.5 265.0 L776.5 265.9 L775.5 265.9 L774.5 265.2 L773.5 266.7 L772.5 264.8 L771.5 264.9 L770.5 265.3 L769.5 264.3 L768.5 265.7 L767.5 265.7 L766.4 265.2 L765.4 265.8 L764.4 265.9 L763.4 266.2 L762.4 266.2 L761.4 265.7 L760.4 265.8 L759.4 267.3 L758.4 265.1 L757.4 267.5 L756.4 265.4 L755.4 265.6 L754.4 266.3 L753.4 268.0 L752.4 265.9 L751.4 265.4 L750.4 267.5 L749.3 266.8 L748.3 265.8 L747.3 268.0 L746.3 267.2 L745.3 267.5 L744.3 266.0 L743.3 267.5 L742.3 266.0 L741.3 266.6 L740.3 267.5 L739.3 268.8 L738.3 268.7 L737.3 266.6 L736.3 268.7 L735.3 268.7 L734.3 266.6 L733.3 266.5 L732.3 267.0 L731.2 269.2 L730.2 267.2 L729.2 268.1 L728.2 268.5 L727.2 267.9 L726.2 267.7 L725.2 268.4 L724.2 269.1 L723.2 267.5 L722.2 267.1 L721.2 268.3 L720.2 269.7 L719.2 269.5 L718.2 267.3 L717.2 269.1 L716.2 269.7 L715.2 269.5 L714.2 267.2 L713.2 267.2 L712.2 268.5 L711.2 269.9 L710.1 269.8 L709.1 268.1 L708.1 269.9 L707.1 269.5 L706.1 268.5 L705.1 267.8 L704.1 267.7 L703.1 268.3 L702.1 267.6 L701.1 268.8 L700.1 269.1 L699.1 270.1 L698.1 267.6 L697.1 267.7 L696.1 269.2 L695.1 267.9 L694.1 267.9 L693.1 269.1 L692.1 269.5 L691.1 269.7 L690.1 268.6 L689.1 268.0 L688.1 267.6 L687.1 269.8 L686.1 269.7 L685.1 267.9 L684.1 269.3 L683.0 267.8 L682.0 269.0 L681.0 270.0 L680.0 270.4 L679.0 269.4 L678.0 270.2 L677.0 269.2 L676.0 270.5 L675.0 268.5 L674.0 267.9 L673.0 269.2 L672.0 270.6 L671.0 269.7 L670.0 269.8 L669.0 270.1 L668.0 269.9 L667.0 270.0 L666.0 268.9 L665.0 268.9 L664.0 270.4 L663.0 268.7 L662.0 269.5 L661.0 268.7 L660.0 269.9 L659.0 269.4 L658.0 270.6 L657.0 269.0 L655.9 268.6 L654.9 268.2 L653.9 268.2 L652.9 268.9 L651.9 270.5 L650.9 271.0 L649.9 268.6 L648.9 270.8 L647.9 268.5 L646.9 270.5 L645.9 269.4 L644.9 268.6 L643.8 269.2 L642.8 271.0 L641.7 270.5 L640.6 270.2 L639.6 270.6 L638.5 271.0 L637.4 270.0 L636.3 271.2 L635.3 271.1 L634.2 270.7 L633.1 270.3 L632.1 271.3 L631.0 269.1 L629.9 269.8 L628.9 271.1 L627.8 270.8 L626.8 270.1 L625.7 269.4 L624.7 271.1 L623.6 269.5 L622.6 271.4 L621.5 271.1 L620.5 269.4 L619.4 270.2 L618.4 271.8 L617.3 270.6 L616.3 271.4 L615.2 271.1 L614.2 270.3 L613.1 271.2 L612.1 271.1 L611.0 271.9 L610.0 272.0 L609.0 270.9 L608.0 270.9 L607.0 272.4 L606.0 271.5 L605.0 273.8 L604.0 273.4 L603.0 272.8 L602.0 274.4 L601.0 273.5 L600.0 275.0 L598.7 275.0 L597.5 276.5 L596.3 277.9 L595.0 279.0 L593.9 277.9 L592.8 277.8 L591.7 278.8 L590.6 279.9 L589.5 280.8 L588.4 280.4 L587.3 281.2 L586.2 280.3 L585.1 279.8 L584.0 281.4 L583.0 280.7 L581.9 280.1 L580.9 280.5 L579.8 281.2 L578.9 282.0 L578.0 281.0 L578.1 280.0 L577.1 279.0 L577.4 278.0 L577.1 277.0 L577.4 276.0 L576.6 275.0 L577.5 274.0 L576.3 273.0 L576.2 272.0 L576.8 271.0 L577.0 270.0 L576.8 269.0 L576.6 268.0 L575.7 267.0 L575.7 266.0 L575.8 265.0 L575.7 264.0 L575.6 263.0 L575.7 262.0 L575.7 261.0 L575.6 260.0 L576.2 259.0 L576.1 258.0 L575.3 257.0 L575.7 256.0 L575.9 255.0 L575.0 254.0 L576.1 253.0 L575.6 252.0 L575.4 251.0 L575.3 250.0 L575.8 249.0 L575.4 248.0 L575.2 247.0 L575.8 246.0 L574.8 245.0 L575.1 244.0 L575.6 243.0 L575.5 242.0 L575.4 241.0 L575.4 240.0 L574.5 239.0 L575.1 238.0 L574.9 237.0 L575.4 236.0 L575.3 235.0 L574.6 234.0 L575.0 233.0 L574.5 232.0 L574.5 231.0 L574.8 230.0 L574.9 229.0 L574.8 228.0 L574.0 227.0 L573.8 226.0 L574.8 225.0 L574.3 224.0 L574.3 223.0 L574.4 222.0 L574.6 221.0 L574.3 220.0 L574.2 219.0 L573.9 218.0 L574.2 217.0 L574.2 216.0 L573.9 215.0 L574.3 214.0 L573.6 213.0 L574.2 212.0 L574.2 211.0 L573.9 210.0 L573.4 209.0 L573.6 208.0 L573.3 207.0 L573.8 206.0 L573.7 205.0 L573.0 204.0 L573.2 203.0 L573.6 202.0 L572.8 201.0 L573.5 200.0 L573.2 199.0 L572.7 198.0 L572.9 197.0 L573.5 196.0 L572.5 195.0 L572.9 194.0 L573.5 193.0 L572.6 192.0 L573.2 191.0 L572.7 190.0 L573.3 189.0 L573.2 188.0 L573.0 187.0 L572.3 186.0 L573.1 185.0 L572.4 184.0 L572.9 183.0 L572.7 182.0 L572.6 181.0 L572.3 180.0 L572.7 179.0 L572.9 178.0 L572.7 177.0 L572.6 176.0 L571.9 175.0 L571.9 174.0 L572.4 173.0 L572.0 172.0 L572.5 171.0 L572.0 170.0 L572.5 169.0 L571.4 168.0 L572.4 167.0 L571.6 166.0 L572.1 165.0 L571.9 164.0 L572.0 163.0 L571.7 162.0 L572.0 161.0 L572.1 160.0 L571.5 159.0 L571.9 158.0 L571.7 157.0 L571.8 156.0 L571.6 155.0 L571.7 154.0 L571.1 153.0 L571.3 152.0 L571.9 151.0 L571.0 150.0 L571.6 149.0 L571.3 148.0 L571.3 147.0 L571.0 146.0 L571.5 145.0 L570.8 144.0 L571.0 143.0 L570.7 142.0 L571.1 141.0 L570.6 140.0 L571.1 139.0 L571.0 138.0 L570.6 137.0 L570.5 136.0 L570.8 135.0 L571.4 134.0 L570.9 133.0 L571.0 132.0 L570.5 131.0 L571.1 130.0 L570.3 129.0 L571.3 128.0 L570.8 127.0 L570.6 126.0 L571.1 125.0 L570.2 124.0 L570.4 123.0 L570.9 122.0 L570.9 121.0 L570.2 120.0 L570.1 119.0 L570.6 118.0 L570.3 117.0 L570.8 116.0 L570.9 115.0 L570.9 114.0 L570.4 113.0 L570.8 112.0 L570.4 111.0 L569.8 110.0 L570.6 109.0 L569.5 108.0 L570.1 107.0 L569.7 106.0 L570.2 105.0 L570.0 104.0 L570.0 103.0 L570.2 102.0 L569.7 101.0 L569.8 100.0 L570.3 99.0 L569.6 98.0 L569.4 97.0 L569.8 96.0 L569.7 95.0 L569.8 94.0 L569.8 93.0 L569.6 92.0 L569.6 91.0 L570.2 90.0 L569.9 89.0 L570.1 88.0 L569.2 87.0 L569.8 86.0 L569.2 85.0 L569.3 84.0 L569.9 83.0 L570.0 82.0 L569.8 81.0 L569.5 80.0 L569.3 79.0 L570.1 78.0 L569.8 77.0 L569.1 76.0 L570.1 75.0 L569.1 74.0 L569.1 73.0 L569.5 72.0 L570.1 71.0 L569.4 70.0 L569.3 69.0 L569.8 68.0 L569.8 67.0 L570.1 66.0 L569.5 65.0 L569.4 64.0 L569.6 63.0 L569.0 62.0 L569.2 61.0 L569.8 60.0 L569.2 59.0 L569.9 58.0 L569.3 57.0 L569.1 56.0 L569.2 55.0 L569.2 54.0 L569.4 53.0 L569.7 52.0 L570.0 51.0 L569.3 50.0 L569.4 49.0 L569.7 48.0 L569.2 47.0 L569.2 46.0 L569.7 45.0 L568.9 44.0 L569.9 43.0 L569.0 42.0 L569.1 41.0 L569.4 40.0 L569.0 39.0 L568.9 38.0 L569.9 37.0 L569.3 36.0 L569.5 35.0 L569.9 34.0 L569.6 33.0 L569.6 32.0 L569.6 31.0 L569.3 30.0 Z" fill="#000"/><path d="M582.1 263.0L583.2 263.1L584.3 262.4L585.5 262.5L586.6 261.9L587.7 261.9L588.8 261.3L589.9 261.3L591.1 260.7L592.2 261.0L593.3 260.6L594.4 260.9L595.6 260.3L596.7 260.7L597.8 260.3L598.9 260.6L600.0 260.2L601.2 260.5L602.3 260.0L603.4 260.3L604.5 259.9L605.6 260.2L606.8 259.7L607.9 260.2L609.0 259.6L610.1 260.0L611.3 259.4L612.4 260.0L613.5 259.3L614.6 259.7L615.7 259.4L616.9 259.7L618.0 259.3L619.1 259.8L620.2 259.3L621.4 259.7L622.5 259.4L623.6 259.6L624.7 259.2L625.8 259.8L627.0 259.1L628.1 259.5L629.2 259.3L630.3 259.5L631.4 259.2L632.6 259.5L633.7 259.2L634.8 259.5L635.9 259.1L637.1 259.5L638.2 259.1L639.3 259.4L640.4 259.0L641.5 259.4L642.7 259.0L643.8 259.4L644.9 259.1L646.0 259.6L647.2 259.0L648.3 259.4L649.4 258.9L650.5 259.5L651.6 259.1L652.8 259.5L653.9 259.1L655.0 259.3L656.1 259.1L657.2 259.5L658.4 259.0L659.5 259.4L660.6 258.9L661.7 259.3L662.9 259.1L664.0 259.3L665.1 259.0L666.2 259.4L667.3 259.0L668.5 259.2L669.6 259.0L670.7 259.2L671.8 259.0L673.0 259.2L674.1 259.0L675.2 259.3L676.3 258.8L677.4 259.3L678.6 259.0L679.7 259.2L680.8 258.9L681.9 259.3L683.0 258.9L684.2 259.3L685.3 258.8L686.4 259.3L687.5 258.9L688.7 259.2L689.8 258.7L690.9 259.2L692.0 258.7L693.1 259.3L694.3 258.7L695.4 259.2L696.5 258.7L697.6 259.1L698.8 258.9L699.9 259.2L701.0 258.8L702.1 259.1L703.2 258.9L704.4 259.1L705.5 258.9L706.6 259.1L707.7 258.7L708.8 259.0L710.0 258.7L711.1 259.2L712.2 258.8L713.3 259.1L714.5 258.7L715.6 259.2L716.7 258.7L717.8 259.0L718.9 258.8L720.1 259.0L721.2 258.8L722.3 259.1L723.4 258.6L724.6 258.9L725.7 258.5L726.8 259.1L727.9 258.7L729.0 259.0L730.2 258.6L731.3 258.9L732.4 258.5L733.5 258.8L734.6 258.5L735.8 258.9L736.9 258.4L738.0 259.0L739.1 258.3L740.3 258.8L741.4 258.4L742.5 258.9L743.6 258.3L744.7 258.8L745.9 258.3L747.0 258.8L748.1 258.4L749.2 258.6L750.4 258.2L751.5 258.6L752.6 258.2L753.7 258.7L754.8 258.2L756.0 258.6L757.1 258.1L758.2 258.6L759.3 258.3L760.4 258.5L761.6 258.1L762.7 258.6L763.8 258.1L764.9 258.6L766.1 258.1L767.2 258.4L768.3 258.1L769.4 258.5L770.5 258.0L771.7 258.5L772.8 257.9L773.9 258.5L775.0 258.0L776.2 258.2L777.3 257.9L778.4 258.2L779.5 257.9L780.6 258.2L781.8 257.9L782.9 258.2L784.0 257.8L785.1 258.3L786.2 257.7L787.4 258.3L788.5 257.9L789.6 258.2L790.7 257.8L791.9 258.1L793.0 257.8L794.1 258.1L795.2 257.5L796.3 258.0L797.5 257.4L798.6 257.7L799.7 257.3L800.8 257.7L802.0 257.3L803.1 257.6L804.2 257.2L805.3 257.4L806.4 257.0L807.6 257.4L808.7 256.9L809.8 257.3L810.9 256.9L812.0 257.1L813.2 256.8L814.3 257.0L815.4 256.5L816.5 256.8L817.7 256.5L818.8 256.9L819.9 256.5L821.0 256.7L822.1 256.2L823.3 256.7L824.4 256.2L825.5 256.5L826.6 256.1L827.8 256.3L828.9 255.8L830.0 256.3L831.1 255.8L832.2 256.3L833.4 255.7L834.5 256.0L835.6 255.6L836.7 255.8L837.9 255.4L839.0 255.7L840.1 255.4L841.2 255.6L842.3 255.3L843.5 255.7L844.6 255.2L845.7 255.5L846.8 255.0L847.9 255.2L849.1 254.8L850.2 255.1L851.3 254.7L852.4 255.2L853.6 254.7L854.7 255.0L855.8 254.6L856.9 254.9L858.0 254.4L859.2 254.7L860.3 254.4L861.4 254.6L862.5 254.4L863.7 254.5L864.8 254.2L865.9 254.5L867.0 254.2L868.1 254.5L869.3 254.1L870.4 254.4L871.5 254.1L872.6 254.5L873.7 254.0L874.9 254.4L876.0 254.1L877.1 254.6L878.2 254.0L879.4 254.4L880.5 254.1L881.6 254.4L882.7 253.9L883.8 254.4L885.0 253.8L886.1 254.4L887.2 254.0L888.3 254.3L889.5 253.9L890.6 254.4L891.7 253.8L892.8 254.3L893.9 253.9L895.1 254.2L896.2 253.7L897.3 254.2L898.4 253.7L899.5 254.0L900.7 253.7L901.8 254.0L902.9 253.8L904.0 254.1L905.2 253.7L906.3 253.9L907.4 253.6L908.5 253.8L909.6 253.5L910.8 253.9L911.9 253.3L913.0 253.8L914.1 253.3L915.3 253.8L916.4 253.2L917.5 253.5L918.6 253.2L919.7 253.4L920.9 253.1L922.0 253.3L923.1 253.0L924.2 253.4L925.3 252.9L926.5 253.2L927.6 252.9L928.7 253.2L929.8 252.8L931.0 253.1L932.1 252.7L933.2 252.8L934.3 252.4L935.4 252.9L936.6 252.3L937.7 252.8L938.8 252.3L939.9 252.6L941.1 252.2L942.2 252.5L943.3 252.1L944.4 252.6L945.5 252.0L946.7 252.3L947.8 252.1L948.9 252.3L950.0 252.0" stroke="#000000" stroke-width="1.8" fill="none" stroke-linejoin="round" stroke-dasharray="1.5 1.3"/><path d="M864.8 255.3L865.7 255.7L866.6 254.4L867.5 254.9L868.4 254.9L869.3 254.3L870.2 255.6L871.1 254.4L872.0 255.2L872.8 255.1L873.7 254.9L874.6 254.2L875.5 253.8L876.4 254.1L877.3 254.6L878.2 254.8L879.1 254.5L880.0 254.5L880.9 254.0L881.8 253.8L882.7 254.4L883.6 254.1L884.5 252.6L885.4 252.0L886.3 252.1L887.2 249.9L888.1 249.7L889.0 248.9L889.9 247.3L890.8 246.6L891.7 246.1L892.6 245.1L893.5 243.7L894.4 242.1L895.3 241.2L896.2 241.1L897.1 240.0L898.0 238.4L898.9 236.9L899.8 234.2L900.7 232.5L901.6 231.3L902.5 229.0L903.4 226.5L904.3 224.3L905.2 222.3L906.1 219.3L906.9 217.5L907.8 214.0L908.7 212.6L909.6 209.9L910.5 207.0L911.4 205.3L912.3 202.0L913.2 199.4L914.1 196.3L915.0 193.6L915.9 190.2L916.8 186.7L917.7 183.1L918.6 180.8L919.5 176.4L920.4 172.9L921.3 170.9L922.2 166.7L923.1 164.0L924.0 160.5L924.9 155.4L925.8 152.9L926.7 148.9L927.6 144.8L928.5 141.2L929.4 137.2L930.3 133.6L931.2 130.8L932.1 127.9L933.0 123.2L933.9 120.8L934.8 116.3L935.7 112.3L936.6 107.2L937.5 104.0L938.4 99.0L939.3 96.2L940.2 92.9L941.1 89.4L941.9 86.8L942.8 83.8L943.7 79.7L944.6 76.9L945.5 74.2L946.4 71.5L947.3 68.5L948.2 65.0L949.1 62.6" stroke="#000000" stroke-width="2.3" fill="none" stroke-linejoin="round"/><path d="M873.7 255.1L874.6 254.3L875.5 254.5L876.4 253.7L877.3 254.1L878.2 254.2L879.1 253.5L880.0 254.5L880.9 253.5L881.8 254.1L882.7 253.7L883.6 253.2L884.5 253.4L885.4 253.6L886.3 253.3L887.2 254.5L888.1 253.8L889.0 253.0L889.9 253.1L890.8 253.6L891.7 253.9L892.6 253.6L893.5 253.5L894.4 253.9L895.3 252.5L896.2 253.0L897.1 253.1L898.0 253.6L898.9 253.3L899.8 253.1L900.7 253.4L901.6 253.1L902.5 252.9L903.4 252.3L904.3 251.9L905.2 253.1L906.1 252.4L906.9 250.7L907.8 251.4L908.7 250.5L909.6 249.4L910.5 248.9L911.4 248.8L912.3 247.4L913.2 246.9L914.1 247.5L915.0 245.8L915.9 245.7L916.8 245.0L917.7 244.3L918.6 243.6L919.5 242.8L920.4 243.2L921.3 242.6L922.2 242.0L923.1 240.9L924.0 238.7L924.9 237.5L925.8 237.1L926.7 235.4L927.6 234.0L928.5 232.7L929.4 231.3L930.3 229.8L931.2 227.7L932.1 226.6L933.0 224.4L933.9 222.8L934.8 220.3L935.7 218.2L936.6 215.7L937.5 214.3L938.4 211.0L939.3 208.2L940.2 204.8L941.1 202.4L941.9 200.6L942.8 197.1L943.7 193.4L944.6 191.3L945.5 187.0L946.4 184.3L947.3 178.6L948.2 174.0L949.1 168.7" stroke="#000000" stroke-width="2.3" fill="none" stroke-linejoin="round"/><path d="M882.7 254.1L883.6 253.9L884.5 254.4L885.4 253.4L886.3 253.7L887.2 253.6L888.1 254.1L889.0 253.4L889.9 253.6L890.8 253.8L891.7 254.6L892.6 254.0L893.5 253.2L894.4 253.8L895.3 254.1L896.2 253.7L897.1 254.4L898.0 254.1L898.9 253.4L899.8 253.8L900.7 254.0L901.6 253.0L902.5 253.7L903.4 253.8L904.3 254.4L905.2 253.5L906.1 253.7L906.9 254.0L907.8 252.9L908.7 253.4L909.6 253.5L910.5 252.9L911.4 253.7L912.3 252.7L913.2 253.1L914.1 253.6L915.0 253.4L915.9 252.6L916.8 253.1L917.7 254.1L918.6 252.7L919.5 253.4L920.4 253.5L921.3 253.2L922.2 253.6L923.1 252.8L924.0 252.9L924.9 252.9L925.8 252.5L926.7 252.3L927.6 251.4L928.5 250.8L929.4 251.6L930.3 250.3L931.2 249.6L932.1 249.0L933.0 248.9L933.9 248.1L934.8 248.1L935.7 247.2L936.6 246.8L937.5 247.0L938.4 245.7L939.3 245.2L940.2 244.8L941.1 244.7L941.9 243.0L942.8 242.5L943.7 241.8L944.6 242.0L945.5 241.4L946.4 240.6L947.3 239.6L948.2 239.1" stroke="#000000" stroke-width="2.3" fill="none" stroke-linejoin="round"/><path d="M569.5 323V31.5" stroke="#111" stroke-width="1.4"/><path d="M569.5 31.5V21" stroke="#00ff00" stroke-width="1.4"/></g>
<clipPath id="ia"><rect x="70" y="100" width="80" height="22.9"/></clipPath><clipPath id="ib"><rect x="570" y="95" width="80" height="24.1"/></clipPath>
<text x="79" y="122.6" font-size="14" clip-path="url(#ia)">Instability</text>
<text x="169.8" y="239.2" font-size="14">Good measures</text>
<text x="323.7" y="119.8" font-size="14">Oversaturation</text>
<text x="288.4" y="24.4" font-size="11.7">Near object</text>
<text x="288.4" y="37.8" font-size="11.7">in 290mm</text>
<text x="370" y="60.7" font-size="11.7">Near object</text>
<text x="370" y="74.1" font-size="11.7">in 330mm</text>
<text x="402" y="239.3" font-size="11.6" text-anchor="middle">Object between</text>
<text x="402" y="252.8" font-size="11.6" text-anchor="middle">[370-725]mm</text>
<text x="579" y="118.8" font-size="14" clip-path="url(#ib)">Instability</text>
<text x="704.4" y="232.5" font-size="14">Good measures</text>
<text x="863" y="117.2" font-size="14">Oversaturation</text>
<text x="901.8" y="61.4" font-size="11.7">Near object</text>
<text x="901.8" y="74.6" font-size="11.7">in 546mm</text>
<text x="940.5" y="151" font-size="11.7">Near object</text>
<text x="940.5" y="164.3" font-size="11.7">in 576mm</text>
<text x="936.1" y="267.3" font-size="11.6" text-anchor="middle">Object between</text>
<text x="935.5" y="280.8" font-size="11.6" text-anchor="middle">[966-606]mm</text>
<text x="228.1" y="406.5" text-anchor="middle" style="font-family:'Liberation Serif',serif" font-size="23">(a)</text>
<text x="735.3" y="406.6" text-anchor="middle" style="font-family:'Liberation Serif',serif" font-size="23">(b)</text>
</svg>
</body></html>
